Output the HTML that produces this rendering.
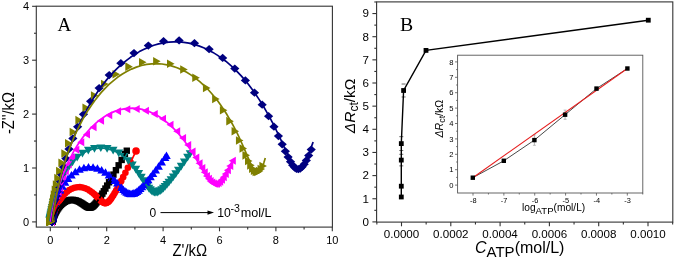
<!DOCTYPE html>
<html><head><meta charset="utf-8"><style>
html,body{margin:0;padding:0;background:#fff;}
body{width:675px;height:259px;overflow:hidden;font-family:"Liberation Sans",sans-serif;}
svg{display:block;will-change:transform;}
</style></head><body>
<svg width="675" height="259" viewBox="0 0 675 259">
<rect width="675" height="259" fill="#fff"/>
<rect x="36.3" y="6.2" width="296.09999999999997" height="220.9" fill="none" stroke="#333" stroke-width="1.1"/>
<line x1="32.099999999999994" y1="221.90" x2="36.3" y2="221.90" stroke="#333" stroke-width="1.1"/>
<text x="29" y="225.85" text-anchor="end" font-size="11" font-family="Liberation Sans, sans-serif">0</text>
<line x1="34.0" y1="194.95" x2="36.3" y2="194.95" stroke="#333" stroke-width="1.1"/>
<line x1="32.099999999999994" y1="168.00" x2="36.3" y2="168.00" stroke="#333" stroke-width="1.1"/>
<text x="29" y="171.95" text-anchor="end" font-size="11" font-family="Liberation Sans, sans-serif">1</text>
<line x1="34.0" y1="141.05" x2="36.3" y2="141.05" stroke="#333" stroke-width="1.1"/>
<line x1="32.099999999999994" y1="114.10" x2="36.3" y2="114.10" stroke="#333" stroke-width="1.1"/>
<text x="29" y="118.05" text-anchor="end" font-size="11" font-family="Liberation Sans, sans-serif">2</text>
<line x1="34.0" y1="87.15" x2="36.3" y2="87.15" stroke="#333" stroke-width="1.1"/>
<line x1="32.099999999999994" y1="60.20" x2="36.3" y2="60.20" stroke="#333" stroke-width="1.1"/>
<text x="29" y="64.15" text-anchor="end" font-size="11" font-family="Liberation Sans, sans-serif">3</text>
<line x1="34.0" y1="33.25" x2="36.3" y2="33.25" stroke="#333" stroke-width="1.1"/>
<line x1="32.099999999999994" y1="6.30" x2="36.3" y2="6.30" stroke="#333" stroke-width="1.1"/>
<text x="29" y="10.25" text-anchor="end" font-size="11" font-family="Liberation Sans, sans-serif">4</text>
<line x1="50.30" y1="227.1" x2="50.30" y2="231.29999999999998" stroke="#333" stroke-width="1.1"/>
<text x="50.30" y="243.7" text-anchor="middle" font-size="11" font-family="Liberation Sans, sans-serif">0</text>
<line x1="78.50" y1="227.1" x2="78.50" y2="229.4" stroke="#333" stroke-width="1.1"/>
<line x1="106.70" y1="227.1" x2="106.70" y2="231.29999999999998" stroke="#333" stroke-width="1.1"/>
<text x="106.70" y="243.7" text-anchor="middle" font-size="11" font-family="Liberation Sans, sans-serif">2</text>
<line x1="134.90" y1="227.1" x2="134.90" y2="229.4" stroke="#333" stroke-width="1.1"/>
<line x1="163.10" y1="227.1" x2="163.10" y2="231.29999999999998" stroke="#333" stroke-width="1.1"/>
<text x="163.10" y="243.7" text-anchor="middle" font-size="11" font-family="Liberation Sans, sans-serif">4</text>
<line x1="191.30" y1="227.1" x2="191.30" y2="229.4" stroke="#333" stroke-width="1.1"/>
<line x1="219.50" y1="227.1" x2="219.50" y2="231.29999999999998" stroke="#333" stroke-width="1.1"/>
<text x="219.50" y="243.7" text-anchor="middle" font-size="11" font-family="Liberation Sans, sans-serif">6</text>
<line x1="247.70" y1="227.1" x2="247.70" y2="229.4" stroke="#333" stroke-width="1.1"/>
<line x1="275.90" y1="227.1" x2="275.90" y2="231.29999999999998" stroke="#333" stroke-width="1.1"/>
<text x="275.90" y="243.7" text-anchor="middle" font-size="11" font-family="Liberation Sans, sans-serif">8</text>
<line x1="304.10" y1="227.1" x2="304.10" y2="229.4" stroke="#333" stroke-width="1.1"/>
<line x1="332.30" y1="227.1" x2="332.30" y2="231.29999999999998" stroke="#333" stroke-width="1.1"/>
<text x="332.30" y="243.7" text-anchor="middle" font-size="11" font-family="Liberation Sans, sans-serif">10</text>
<text transform="translate(189.8,255.6) scale(0.93,1)" text-anchor="middle" font-size="16" font-family="Liberation Sans, sans-serif">Z'/kΩ</text>
<text transform="translate(13.7,113.1) rotate(-90) scale(0.92,1)" text-anchor="middle" font-size="16" font-family="Liberation Sans, sans-serif">-Z''/kΩ</text>
<text x="57.5" y="30.7" font-size="19" font-family="Liberation Serif, serif">A</text>
<g><rect x="48.86" y="218.20" width="6.40" height="6.40" fill="#000000"/><rect x="48.86" y="218.18" width="6.40" height="6.40" fill="#000000"/><rect x="48.87" y="218.17" width="6.40" height="6.40" fill="#000000"/><rect x="48.87" y="218.15" width="6.40" height="6.40" fill="#000000"/><rect x="48.88" y="218.13" width="6.40" height="6.40" fill="#000000"/><rect x="48.89" y="218.11" width="6.40" height="6.40" fill="#000000"/><rect x="48.89" y="218.08" width="6.40" height="6.40" fill="#000000"/><rect x="48.90" y="218.05" width="6.40" height="6.40" fill="#000000"/><rect x="48.91" y="218.02" width="6.40" height="6.40" fill="#000000"/><rect x="48.93" y="217.98" width="6.40" height="6.40" fill="#000000"/><rect x="48.94" y="217.93" width="6.40" height="6.40" fill="#000000"/><rect x="48.95" y="217.88" width="6.40" height="6.40" fill="#000000"/><rect x="48.97" y="217.82" width="6.40" height="6.40" fill="#000000"/><rect x="48.99" y="217.76" width="6.40" height="6.40" fill="#000000"/><rect x="49.01" y="217.69" width="6.40" height="6.40" fill="#000000"/><rect x="49.04" y="217.60" width="6.40" height="6.40" fill="#000000"/><rect x="49.07" y="217.51" width="6.40" height="6.40" fill="#000000"/><rect x="49.10" y="217.40" width="6.40" height="6.40" fill="#000000"/><rect x="49.14" y="217.28" width="6.40" height="6.40" fill="#000000"/><rect x="49.18" y="217.14" width="6.40" height="6.40" fill="#000000"/><rect x="49.23" y="216.98" width="6.40" height="6.40" fill="#000000"/><rect x="49.29" y="216.80" width="6.40" height="6.40" fill="#000000"/><rect x="49.36" y="216.60" width="6.40" height="6.40" fill="#000000"/><rect x="49.43" y="216.37" width="6.40" height="6.40" fill="#000000"/><rect x="49.52" y="216.12" width="6.40" height="6.40" fill="#000000"/><rect x="49.62" y="215.83" width="6.40" height="6.40" fill="#000000"/><rect x="49.73" y="215.50" width="6.40" height="6.40" fill="#000000"/><rect x="49.86" y="215.14" width="6.40" height="6.40" fill="#000000"/><rect x="50.01" y="214.73" width="6.40" height="6.40" fill="#000000"/><rect x="50.18" y="214.27" width="6.40" height="6.40" fill="#000000"/><rect x="50.37" y="213.76" width="6.40" height="6.40" fill="#000000"/><rect x="50.60" y="213.19" width="6.40" height="6.40" fill="#000000"/><rect x="50.86" y="212.56" width="6.40" height="6.40" fill="#000000"/><rect x="51.16" y="211.87" width="6.40" height="6.40" fill="#000000"/><rect x="51.51" y="211.11" width="6.40" height="6.40" fill="#000000"/><rect x="51.90" y="210.27" width="6.40" height="6.40" fill="#000000"/><rect x="52.36" y="209.37" width="6.40" height="6.40" fill="#000000"/><rect x="52.88" y="208.40" width="6.40" height="6.40" fill="#000000"/><rect x="53.48" y="207.36" width="6.40" height="6.40" fill="#000000"/><rect x="54.16" y="206.27" width="6.40" height="6.40" fill="#000000"/><rect x="54.93" y="205.14" width="6.40" height="6.40" fill="#000000"/><rect x="55.80" y="203.97" width="6.40" height="6.40" fill="#000000"/><rect x="56.77" y="202.81" width="6.40" height="6.40" fill="#000000"/><rect x="57.86" y="201.66" width="6.40" height="6.40" fill="#000000"/><rect x="59.05" y="200.56" width="6.40" height="6.40" fill="#000000"/><rect x="60.34" y="199.54" width="6.40" height="6.40" fill="#000000"/><rect x="61.74" y="198.63" width="6.40" height="6.40" fill="#000000"/><rect x="63.22" y="197.88" width="6.40" height="6.40" fill="#000000"/><rect x="64.77" y="197.29" width="6.40" height="6.40" fill="#000000"/><rect x="66.36" y="196.90" width="6.40" height="6.40" fill="#000000"/><rect x="67.98" y="196.71" width="6.40" height="6.40" fill="#000000"/><rect x="69.60" y="196.72" width="6.40" height="6.40" fill="#000000"/><rect x="71.19" y="196.92" width="6.40" height="6.40" fill="#000000"/><rect x="72.74" y="197.30" width="6.40" height="6.40" fill="#000000"/><rect x="74.22" y="197.82" width="6.40" height="6.40" fill="#000000"/><rect x="75.63" y="198.45" width="6.40" height="6.40" fill="#000000"/><rect x="76.96" y="199.15" width="6.40" height="6.40" fill="#000000"/><rect x="78.20" y="199.89" width="6.40" height="6.40" fill="#000000"/><rect x="79.35" y="200.65" width="6.40" height="6.40" fill="#000000"/><rect x="80.42" y="201.38" width="6.40" height="6.40" fill="#000000"/><rect x="81.42" y="202.07" width="6.40" height="6.40" fill="#000000"/><rect x="82.34" y="202.69" width="6.40" height="6.40" fill="#000000"/><rect x="83.21" y="203.23" width="6.40" height="6.40" fill="#000000"/><rect x="84.02" y="203.67" width="6.40" height="6.40" fill="#000000"/><rect x="84.80" y="204.01" width="6.40" height="6.40" fill="#000000"/><rect x="85.55" y="204.23" width="6.40" height="6.40" fill="#000000"/><rect x="86.28" y="204.34" width="6.40" height="6.40" fill="#000000"/><rect x="86.99" y="204.32" width="6.40" height="6.40" fill="#000000"/><rect x="87.70" y="204.17" width="6.40" height="6.40" fill="#000000"/><rect x="88.42" y="203.89" width="6.40" height="6.40" fill="#000000"/><rect x="89.16" y="203.48" width="6.40" height="6.40" fill="#000000"/><rect x="89.91" y="202.92" width="6.40" height="6.40" fill="#000000"/><rect x="90.70" y="202.22" width="6.40" height="6.40" fill="#000000"/><rect x="91.52" y="201.38" width="6.40" height="6.40" fill="#000000"/><rect x="92.40" y="200.37" width="6.40" height="6.40" fill="#000000"/><rect x="93.33" y="199.20" width="6.40" height="6.40" fill="#000000"/><rect x="94.32" y="197.85" width="6.40" height="6.40" fill="#000000"/><rect x="95.39" y="196.31" width="6.40" height="6.40" fill="#000000"/><rect x="96.54" y="194.58" width="6.40" height="6.40" fill="#000000"/><rect x="97.79" y="192.64" width="6.40" height="6.40" fill="#000000"/><rect x="99.14" y="190.46" width="6.40" height="6.40" fill="#000000"/><rect x="100.61" y="188.04" width="6.40" height="6.40" fill="#000000"/><rect x="102.21" y="185.35" width="6.40" height="6.40" fill="#000000"/><rect x="103.96" y="182.37" width="6.40" height="6.40" fill="#000000"/><rect x="105.86" y="179.07" width="6.40" height="6.40" fill="#000000"/><rect x="107.95" y="175.43" width="6.40" height="6.40" fill="#000000"/><rect x="110.23" y="171.41" width="6.40" height="6.40" fill="#000000"/><rect x="112.72" y="166.99" width="6.40" height="6.40" fill="#000000"/><rect x="115.45" y="162.11" width="6.40" height="6.40" fill="#000000"/><rect x="118.44" y="156.75" width="6.40" height="6.40" fill="#000000"/><rect x="121.72" y="150.85" width="6.40" height="6.40" fill="#000000"/><rect x="123.57" y="147.51" width="6.40" height="6.40" fill="#000000"/></g>
<g><circle cx="51.78" cy="221.07" r="3.30" fill="#ff0000"/><circle cx="51.80" cy="221.01" r="3.30" fill="#ff0000"/><circle cx="51.81" cy="220.93" r="3.30" fill="#ff0000"/><circle cx="51.83" cy="220.84" r="3.30" fill="#ff0000"/><circle cx="51.85" cy="220.74" r="3.30" fill="#ff0000"/><circle cx="51.88" cy="220.62" r="3.30" fill="#ff0000"/><circle cx="51.91" cy="220.49" r="3.30" fill="#ff0000"/><circle cx="51.95" cy="220.33" r="3.30" fill="#ff0000"/><circle cx="51.99" cy="220.15" r="3.30" fill="#ff0000"/><circle cx="52.04" cy="219.94" r="3.30" fill="#ff0000"/><circle cx="52.09" cy="219.71" r="3.30" fill="#ff0000"/><circle cx="52.16" cy="219.43" r="3.30" fill="#ff0000"/><circle cx="52.23" cy="219.12" r="3.30" fill="#ff0000"/><circle cx="52.32" cy="218.76" r="3.30" fill="#ff0000"/><circle cx="52.42" cy="218.34" r="3.30" fill="#ff0000"/><circle cx="52.55" cy="217.86" r="3.30" fill="#ff0000"/><circle cx="52.69" cy="217.32" r="3.30" fill="#ff0000"/><circle cx="52.86" cy="216.70" r="3.30" fill="#ff0000"/><circle cx="53.06" cy="215.99" r="3.30" fill="#ff0000"/><circle cx="53.29" cy="215.19" r="3.30" fill="#ff0000"/><circle cx="53.57" cy="214.28" r="3.30" fill="#ff0000"/><circle cx="53.90" cy="213.25" r="3.30" fill="#ff0000"/><circle cx="54.28" cy="212.09" r="3.30" fill="#ff0000"/><circle cx="54.75" cy="210.79" r="3.30" fill="#ff0000"/><circle cx="55.29" cy="209.35" r="3.30" fill="#ff0000"/><circle cx="55.94" cy="207.76" r="3.30" fill="#ff0000"/><circle cx="56.71" cy="206.03" r="3.30" fill="#ff0000"/><circle cx="57.61" cy="204.15" r="3.30" fill="#ff0000"/><circle cx="58.68" cy="202.15" r="3.30" fill="#ff0000"/><circle cx="59.92" cy="200.06" r="3.30" fill="#ff0000"/><circle cx="61.37" cy="197.91" r="3.30" fill="#ff0000"/><circle cx="63.02" cy="195.77" r="3.30" fill="#ff0000"/><circle cx="64.90" cy="193.69" r="3.30" fill="#ff0000"/><circle cx="67.00" cy="191.76" r="3.30" fill="#ff0000"/><circle cx="69.30" cy="190.08" r="3.30" fill="#ff0000"/><circle cx="71.79" cy="188.71" r="3.30" fill="#ff0000"/><circle cx="74.40" cy="187.72" r="3.30" fill="#ff0000"/><circle cx="77.11" cy="187.18" r="3.30" fill="#ff0000"/><circle cx="79.83" cy="187.10" r="3.30" fill="#ff0000"/><circle cx="82.52" cy="187.46" r="3.30" fill="#ff0000"/><circle cx="85.11" cy="188.22" r="3.30" fill="#ff0000"/><circle cx="87.57" cy="189.32" r="3.30" fill="#ff0000"/><circle cx="89.85" cy="190.68" r="3.30" fill="#ff0000"/><circle cx="91.95" cy="192.20" r="3.30" fill="#ff0000"/><circle cx="93.85" cy="193.79" r="3.30" fill="#ff0000"/><circle cx="95.56" cy="195.40" r="3.30" fill="#ff0000"/><circle cx="97.10" cy="196.94" r="3.30" fill="#ff0000"/><circle cx="98.48" cy="198.37" r="3.30" fill="#ff0000"/><circle cx="99.72" cy="199.65" r="3.30" fill="#ff0000"/><circle cx="100.85" cy="200.75" r="3.30" fill="#ff0000"/><circle cx="101.89" cy="201.66" r="3.30" fill="#ff0000"/><circle cx="102.86" cy="202.36" r="3.30" fill="#ff0000"/><circle cx="103.78" cy="202.84" r="3.30" fill="#ff0000"/><circle cx="104.66" cy="203.11" r="3.30" fill="#ff0000"/><circle cx="105.52" cy="203.17" r="3.30" fill="#ff0000"/><circle cx="106.38" cy="203.00" r="3.30" fill="#ff0000"/><circle cx="107.24" cy="202.60" r="3.30" fill="#ff0000"/><circle cx="108.14" cy="201.98" r="3.30" fill="#ff0000"/><circle cx="109.06" cy="201.13" r="3.30" fill="#ff0000"/><circle cx="110.04" cy="200.05" r="3.30" fill="#ff0000"/><circle cx="111.07" cy="198.71" r="3.30" fill="#ff0000"/><circle cx="112.18" cy="197.12" r="3.30" fill="#ff0000"/><circle cx="113.38" cy="195.25" r="3.30" fill="#ff0000"/><circle cx="114.67" cy="193.10" r="3.30" fill="#ff0000"/><circle cx="116.08" cy="190.64" r="3.30" fill="#ff0000"/><circle cx="117.62" cy="187.84" r="3.30" fill="#ff0000"/><circle cx="119.30" cy="184.68" r="3.30" fill="#ff0000"/><circle cx="121.15" cy="181.13" r="3.30" fill="#ff0000"/><circle cx="123.18" cy="177.16" r="3.30" fill="#ff0000"/><circle cx="125.41" cy="172.71" r="3.30" fill="#ff0000"/><circle cx="127.88" cy="167.76" r="3.30" fill="#ff0000"/><circle cx="130.59" cy="162.24" r="3.30" fill="#ff0000"/><circle cx="136.04" cy="151.07" r="3.80" fill="#ff0000"/></g>
<g><path d="M50.00 224.83L54.40 217.13L45.60 217.13Z" fill="#008080"/><path d="M50.01 224.72L54.41 217.02L45.61 217.02Z" fill="#008080"/><path d="M50.03 224.58L54.43 216.88L45.63 216.88Z" fill="#008080"/><path d="M50.05 224.42L54.45 216.72L45.65 216.72Z" fill="#008080"/><path d="M50.08 224.24L54.48 216.54L45.68 216.54Z" fill="#008080"/><path d="M50.11 224.02L54.51 216.32L45.71 216.32Z" fill="#008080"/><path d="M50.14 223.76L54.54 216.06L45.74 216.06Z" fill="#008080"/><path d="M50.19 223.45L54.59 215.75L45.79 215.75Z" fill="#008080"/><path d="M50.24 223.10L54.64 215.40L45.84 215.40Z" fill="#008080"/><path d="M50.30 222.68L54.70 214.98L45.90 214.98Z" fill="#008080"/><path d="M50.37 222.18L54.77 214.48L45.97 214.48Z" fill="#008080"/><path d="M50.45 221.61L54.85 213.91L46.05 213.91Z" fill="#008080"/><path d="M50.56 220.93L54.96 213.23L46.16 213.23Z" fill="#008080"/><path d="M50.68 220.14L55.08 212.44L46.28 212.44Z" fill="#008080"/><path d="M50.83 219.21L55.23 211.51L46.43 211.51Z" fill="#008080"/><path d="M51.02 218.12L55.42 210.42L46.62 210.42Z" fill="#008080"/><path d="M51.24 216.86L55.64 209.16L46.84 209.16Z" fill="#008080"/><path d="M51.51 215.38L55.91 207.68L47.11 207.68Z" fill="#008080"/><path d="M51.85 213.66L56.25 205.96L47.45 205.96Z" fill="#008080"/><path d="M52.26 211.68L56.66 203.98L47.86 203.98Z" fill="#008080"/><path d="M52.78 209.38L57.18 201.68L48.38 201.68Z" fill="#008080"/><path d="M53.41 206.73L57.81 199.03L49.01 199.03Z" fill="#008080"/><path d="M54.20 203.71L58.60 196.01L49.80 196.01Z" fill="#008080"/><path d="M55.19 200.27L59.59 192.57L50.79 192.57Z" fill="#008080"/><path d="M56.42 196.40L60.82 188.70L52.02 188.70Z" fill="#008080"/><path d="M57.95 192.10L62.35 184.40L53.55 184.40Z" fill="#008080"/><path d="M59.84 187.38L64.24 179.68L55.44 179.68Z" fill="#008080"/><path d="M62.17 182.30L66.57 174.60L57.77 174.60Z" fill="#008080"/><path d="M65.02 176.98L69.42 169.28L60.62 169.28Z" fill="#008080"/><path d="M68.44 171.58L72.84 163.88L64.04 163.88Z" fill="#008080"/><path d="M72.50 166.35L76.90 158.65L68.10 158.65Z" fill="#008080"/><path d="M77.19 161.57L81.59 153.87L72.79 153.87Z" fill="#008080"/><path d="M82.49 157.54L86.89 149.84L78.09 149.84Z" fill="#008080"/><path d="M88.31 154.54L92.71 146.84L83.91 146.84Z" fill="#008080"/><path d="M94.48 152.71L98.88 145.01L90.08 145.01Z" fill="#008080"/><path d="M100.82 152.11L105.22 144.41L96.42 144.41Z" fill="#008080"/><path d="M107.11 152.72L111.51 145.02L102.71 145.02Z" fill="#008080"/><path d="M113.14 154.47L117.54 146.77L108.74 146.77Z" fill="#008080"/><path d="M118.76 157.23L123.16 149.53L114.36 149.53Z" fill="#008080"/><path d="M123.86 160.79L128.26 153.09L119.46 153.09Z" fill="#008080"/><path d="M128.39 164.88L132.79 157.18L123.99 157.18Z" fill="#008080"/><path d="M132.35 169.21L136.75 161.51L127.95 161.51Z" fill="#008080"/><path d="M135.78 173.53L140.18 165.83L131.38 165.83Z" fill="#008080"/><path d="M138.74 177.66L143.14 169.96L134.34 169.96Z" fill="#008080"/><path d="M141.30 181.47L145.70 173.77L136.90 173.77Z" fill="#008080"/><path d="M143.54 184.87L147.94 177.17L139.14 177.17Z" fill="#008080"/><path d="M145.51 187.84L149.91 180.14L141.11 180.14Z" fill="#008080"/><path d="M147.27 190.35L151.67 182.65L142.87 182.65Z" fill="#008080"/><path d="M148.88 192.40L153.28 184.70L144.48 184.70Z" fill="#008080"/><path d="M150.37 194.02L154.77 186.32L145.97 186.32Z" fill="#008080"/><path d="M151.79 195.23L156.19 187.53L147.39 187.53Z" fill="#008080"/><path d="M153.17 196.05L157.57 188.35L148.77 188.35Z" fill="#008080"/><path d="M154.52 196.50L158.92 188.80L150.12 188.80Z" fill="#008080"/><path d="M155.88 196.60L160.28 188.90L151.48 188.90Z" fill="#008080"/><path d="M157.26 196.38L161.66 188.68L152.86 188.68Z" fill="#008080"/><path d="M158.68 195.84L163.08 188.14L154.28 188.14Z" fill="#008080"/><path d="M160.16 195.01L164.56 187.31L155.76 187.31Z" fill="#008080"/><path d="M161.71 193.88L166.11 186.18L157.31 186.18Z" fill="#008080"/><path d="M163.35 192.47L167.75 184.77L158.95 184.77Z" fill="#008080"/><path d="M165.08 190.78L169.48 183.08L160.68 183.08Z" fill="#008080"/><path d="M166.93 188.80L171.33 181.10L162.53 181.10Z" fill="#008080"/><path d="M168.90 186.53L173.30 178.83L164.50 178.83Z" fill="#008080"/><path d="M171.02 183.96L175.42 176.26L166.62 176.26Z" fill="#008080"/><path d="M173.29 181.09L177.69 173.39L168.89 173.39Z" fill="#008080"/><path d="M175.73 177.90L180.13 170.20L171.33 170.20Z" fill="#008080"/><path d="M178.37 174.37L182.77 166.67L173.97 166.67Z" fill="#008080"/><path d="M181.21 170.48L185.61 162.78L176.81 162.78Z" fill="#008080"/><path d="M184.28 166.22L188.68 158.52L179.88 158.52Z" fill="#008080"/><path d="M187.59 161.56L191.99 153.86L183.19 153.86Z" fill="#008080"/><path d="M190.13 157.95L194.53 150.25L185.73 150.25Z" fill="#008080"/></g>
<g><path d="M50.58 217.60L54.88 225.12L46.28 225.12Z" fill="#0000ff"/><path d="M50.58 217.59L54.88 225.12L46.28 225.12Z" fill="#0000ff"/><path d="M50.58 217.58L54.88 225.11L46.28 225.11Z" fill="#0000ff"/><path d="M50.58 217.58L54.88 225.10L46.28 225.10Z" fill="#0000ff"/><path d="M50.58 217.57L54.88 225.09L46.28 225.09Z" fill="#0000ff"/><path d="M50.58 217.55L54.88 225.08L46.28 225.08Z" fill="#0000ff"/><path d="M50.58 217.54L54.88 225.07L46.28 225.07Z" fill="#0000ff"/><path d="M50.59 217.53L54.89 225.05L46.29 225.05Z" fill="#0000ff"/><path d="M50.59 217.51L54.89 225.03L46.29 225.03Z" fill="#0000ff"/><path d="M50.59 217.49L54.89 225.01L46.29 225.01Z" fill="#0000ff"/><path d="M50.60 217.46L54.90 224.99L46.30 224.99Z" fill="#0000ff"/><path d="M50.60 217.43L54.90 224.96L46.30 224.96Z" fill="#0000ff"/><path d="M50.61 217.40L54.91 224.93L46.31 224.93Z" fill="#0000ff"/><path d="M50.61 217.36L54.91 224.89L46.31 224.89Z" fill="#0000ff"/><path d="M50.62 217.31L54.92 224.84L46.32 224.84Z" fill="#0000ff"/><path d="M50.63 217.26L54.93 224.78L46.33 224.78Z" fill="#0000ff"/><path d="M50.64 217.20L54.94 224.72L46.34 224.72Z" fill="#0000ff"/><path d="M50.65 217.12L54.95 224.65L46.35 224.65Z" fill="#0000ff"/><path d="M50.66 217.03L54.96 224.56L46.36 224.56Z" fill="#0000ff"/><path d="M50.68 216.93L54.98 224.45L46.38 224.45Z" fill="#0000ff"/><path d="M50.70 216.81L55.00 224.33L46.40 224.33Z" fill="#0000ff"/><path d="M50.72 216.67L55.02 224.19L46.42 224.19Z" fill="#0000ff"/><path d="M50.75 216.50L55.05 224.03L46.45 224.03Z" fill="#0000ff"/><path d="M50.78 216.31L55.08 223.83L46.48 223.83Z" fill="#0000ff"/><path d="M50.81 216.08L55.11 223.60L46.51 223.60Z" fill="#0000ff"/><path d="M50.86 215.81L55.16 223.34L46.56 223.34Z" fill="#0000ff"/><path d="M50.91 215.50L55.21 223.03L46.61 223.03Z" fill="#0000ff"/><path d="M50.97 215.14L55.27 222.66L46.67 222.66Z" fill="#0000ff"/><path d="M51.05 214.71L55.35 222.23L46.75 222.23Z" fill="#0000ff"/><path d="M51.14 214.21L55.44 221.74L46.84 221.74Z" fill="#0000ff"/><path d="M51.25 213.63L55.55 221.16L46.95 221.16Z" fill="#0000ff"/><path d="M51.38 212.95L55.68 220.48L47.08 220.48Z" fill="#0000ff"/><path d="M51.53 212.17L55.83 219.69L47.23 219.69Z" fill="#0000ff"/><path d="M51.72 211.25L56.02 218.78L47.42 218.78Z" fill="#0000ff"/><path d="M51.95 210.19L56.25 217.71L47.65 217.71Z" fill="#0000ff"/><path d="M52.23 208.96L56.53 216.48L47.93 216.48Z" fill="#0000ff"/><path d="M52.57 207.54L56.87 215.07L48.27 215.07Z" fill="#0000ff"/><path d="M53.00 205.91L57.30 213.43L48.70 213.43Z" fill="#0000ff"/><path d="M53.51 204.04L57.81 211.57L49.21 211.57Z" fill="#0000ff"/><path d="M54.15 201.88L58.45 209.41L49.85 209.41Z" fill="#0000ff"/><path d="M54.94 199.33L59.24 206.85L50.64 206.85Z" fill="#0000ff"/><path d="M55.91 196.46L60.21 203.99L51.61 203.99Z" fill="#0000ff"/><path d="M57.10 193.30L61.40 200.82L52.80 200.82Z" fill="#0000ff"/><path d="M58.57 189.84L62.87 197.36L54.27 197.36Z" fill="#0000ff"/><path d="M60.34 186.14L64.64 193.66L56.04 193.66Z" fill="#0000ff"/><path d="M62.49 182.26L66.79 189.79L58.19 189.79Z" fill="#0000ff"/><path d="M65.04 178.33L69.34 185.85L60.74 185.85Z" fill="#0000ff"/><path d="M68.02 174.48L72.32 182.01L63.72 182.01Z" fill="#0000ff"/><path d="M71.45 170.90L75.75 178.43L67.15 178.43Z" fill="#0000ff"/><path d="M75.29 167.79L79.59 175.32L70.99 175.32Z" fill="#0000ff"/><path d="M79.48 165.34L83.78 172.87L75.18 172.87Z" fill="#0000ff"/><path d="M83.92 163.70L88.22 171.23L79.62 171.23Z" fill="#0000ff"/><path d="M88.49 162.98L92.79 170.50L84.19 170.50Z" fill="#0000ff"/><path d="M93.05 163.17L97.35 170.69L88.75 170.69Z" fill="#0000ff"/><path d="M97.46 164.21L101.76 171.73L93.16 171.73Z" fill="#0000ff"/><path d="M101.64 165.96L105.94 173.48L97.34 173.48Z" fill="#0000ff"/><path d="M105.49 168.24L109.79 175.76L101.19 175.76Z" fill="#0000ff"/><path d="M108.98 170.85L113.28 178.38L104.68 178.38Z" fill="#0000ff"/><path d="M112.11 173.62L116.41 181.15L107.81 181.15Z" fill="#0000ff"/><path d="M114.89 176.39L119.19 183.91L110.59 183.91Z" fill="#0000ff"/><path d="M117.37 179.03L121.67 186.55L113.07 186.55Z" fill="#0000ff"/><path d="M119.57 181.45L123.87 188.97L115.27 188.97Z" fill="#0000ff"/><path d="M121.55 183.59L125.85 191.12L117.25 191.12Z" fill="#0000ff"/><path d="M123.35 185.43L127.65 192.95L119.05 192.95Z" fill="#0000ff"/><path d="M125.02 186.93L129.32 194.46L120.72 194.46Z" fill="#0000ff"/><path d="M126.58 188.11L130.88 195.63L122.28 195.63Z" fill="#0000ff"/><path d="M128.07 188.95L132.37 196.48L123.77 196.48Z" fill="#0000ff"/><path d="M129.52 189.48L133.82 197.00L125.22 197.00Z" fill="#0000ff"/><path d="M130.95 189.69L135.25 197.22L126.65 197.22Z" fill="#0000ff"/><path d="M132.38 189.55L136.68 197.08L128.08 197.08Z" fill="#0000ff"/><path d="M133.84 189.11L138.14 196.63L129.54 196.63Z" fill="#0000ff"/><path d="M135.33 188.38L139.63 195.91L131.03 195.91Z" fill="#0000ff"/><path d="M136.88 187.38L141.18 194.91L132.58 194.91Z" fill="#0000ff"/><path d="M138.51 186.11L142.81 193.63L134.21 193.63Z" fill="#0000ff"/><path d="M140.21 184.57L144.51 192.09L135.91 192.09Z" fill="#0000ff"/><path d="M142.01 182.75L146.31 190.28L137.71 190.28Z" fill="#0000ff"/><path d="M143.93 180.67L148.23 188.19L139.63 188.19Z" fill="#0000ff"/><path d="M145.97 178.30L150.27 185.83L141.67 185.83Z" fill="#0000ff"/><path d="M148.15 175.64L152.45 183.17L143.85 183.17Z" fill="#0000ff"/><path d="M150.48 172.69L154.78 180.21L146.18 180.21Z" fill="#0000ff"/><path d="M152.99 169.52L157.29 177.04L148.69 177.04Z" fill="#0000ff"/><path d="M155.68 166.05L159.98 173.58L151.38 173.58Z" fill="#0000ff"/><path d="M158.58 162.25L162.88 169.77L154.28 169.77Z" fill="#0000ff"/><path d="M161.70 158.08L166.00 165.61L157.40 165.61Z" fill="#0000ff"/><path d="M165.06 153.54L169.36 161.06L160.76 161.06Z" fill="#0000ff"/><path d="M166.48 151.59L170.78 159.12L162.18 159.12Z" fill="#0000ff"/></g>
<g><path d="M47.81 221.50L54.81 217.50L54.81 225.50Z" fill="#ff00ff"/><path d="M47.81 221.50L54.81 217.50L54.81 225.50Z" fill="#ff00ff"/><path d="M47.81 221.50L54.81 217.50L54.81 225.50Z" fill="#ff00ff"/><path d="M47.81 221.50L54.81 217.50L54.81 225.50Z" fill="#ff00ff"/><path d="M47.81 221.50L54.81 217.50L54.81 225.50Z" fill="#ff00ff"/><path d="M47.81 221.50L54.81 217.50L54.81 225.50Z" fill="#ff00ff"/><path d="M47.81 221.50L54.81 217.50L54.81 225.50Z" fill="#ff00ff"/><path d="M47.81 221.50L54.81 217.50L54.81 225.50Z" fill="#ff00ff"/><path d="M47.81 221.50L54.81 217.50L54.81 225.50Z" fill="#ff00ff"/><path d="M47.81 221.50L54.81 217.50L54.81 225.50Z" fill="#ff00ff"/><path d="M47.81 221.50L54.81 217.50L54.81 225.50Z" fill="#ff00ff"/><path d="M47.81 221.50L54.81 217.50L54.81 225.50Z" fill="#ff00ff"/><path d="M47.81 221.50L54.81 217.50L54.81 225.50Z" fill="#ff00ff"/><path d="M47.81 221.50L54.81 217.50L54.81 225.50Z" fill="#ff00ff"/><path d="M47.81 221.50L54.81 217.50L54.81 225.50Z" fill="#ff00ff"/><path d="M47.81 221.49L54.81 217.49L54.81 225.49Z" fill="#ff00ff"/><path d="M47.81 221.49L54.81 217.49L54.81 225.49Z" fill="#ff00ff"/><path d="M47.81 221.49L54.81 217.49L54.81 225.49Z" fill="#ff00ff"/><path d="M47.81 221.49L54.81 217.49L54.81 225.49Z" fill="#ff00ff"/><path d="M47.81 221.49L54.81 217.49L54.81 225.49Z" fill="#ff00ff"/><path d="M47.81 221.49L54.81 217.49L54.81 225.49Z" fill="#ff00ff"/><path d="M47.81 221.49L54.81 217.49L54.81 225.49Z" fill="#ff00ff"/><path d="M47.81 221.48L54.81 217.48L54.81 225.48Z" fill="#ff00ff"/><path d="M47.81 221.48L54.81 217.48L54.81 225.48Z" fill="#ff00ff"/><path d="M47.81 221.48L54.81 217.48L54.81 225.48Z" fill="#ff00ff"/><path d="M47.81 221.47L54.81 217.47L54.81 225.47Z" fill="#ff00ff"/><path d="M47.82 221.47L54.82 217.47L54.82 225.47Z" fill="#ff00ff"/><path d="M47.82 221.46L54.82 217.46L54.82 225.46Z" fill="#ff00ff"/><path d="M47.82 221.46L54.82 217.46L54.82 225.46Z" fill="#ff00ff"/><path d="M47.82 221.45L54.82 217.45L54.82 225.45Z" fill="#ff00ff"/><path d="M47.82 221.44L54.82 217.44L54.82 225.44Z" fill="#ff00ff"/><path d="M47.82 221.43L54.82 217.43L54.82 225.43Z" fill="#ff00ff"/><path d="M47.82 221.42L54.82 217.42L54.82 225.42Z" fill="#ff00ff"/><path d="M47.83 221.41L54.83 217.41L54.83 225.41Z" fill="#ff00ff"/><path d="M47.83 221.39L54.83 217.39L54.83 225.39Z" fill="#ff00ff"/><path d="M47.83 221.38L54.83 217.38L54.83 225.38Z" fill="#ff00ff"/><path d="M47.83 221.35L54.83 217.35L54.83 225.35Z" fill="#ff00ff"/><path d="M47.84 221.33L54.84 217.33L54.84 225.33Z" fill="#ff00ff"/><path d="M47.84 221.30L54.84 217.30L54.84 225.30Z" fill="#ff00ff"/><path d="M47.85 221.27L54.85 217.27L54.85 225.27Z" fill="#ff00ff"/><path d="M47.86 221.23L54.86 217.23L54.86 225.23Z" fill="#ff00ff"/><path d="M47.86 221.19L54.86 217.19L54.86 225.19Z" fill="#ff00ff"/><path d="M47.87 221.13L54.87 217.13L54.87 225.13Z" fill="#ff00ff"/><path d="M47.88 221.07L54.88 217.07L54.88 225.07Z" fill="#ff00ff"/><path d="M47.89 221.00L54.89 217.00L54.89 225.00Z" fill="#ff00ff"/><path d="M47.91 220.92L54.91 216.92L54.91 224.92Z" fill="#ff00ff"/><path d="M47.92 220.82L54.92 216.82L54.92 224.82Z" fill="#ff00ff"/><path d="M47.94 220.71L54.94 216.71L54.94 224.71Z" fill="#ff00ff"/><path d="M47.97 220.58L54.97 216.58L54.97 224.58Z" fill="#ff00ff"/><path d="M47.99 220.43L54.99 216.43L54.99 224.43Z" fill="#ff00ff"/><path d="M48.02 220.25L55.02 216.25L55.02 224.25Z" fill="#ff00ff"/><path d="M48.06 220.05L55.06 216.05L55.06 224.05Z" fill="#ff00ff"/><path d="M48.10 219.80L55.10 215.80L55.10 223.80Z" fill="#ff00ff"/><path d="M48.15 219.52L55.15 215.52L55.15 223.52Z" fill="#ff00ff"/><path d="M48.21 219.20L55.21 215.20L55.21 223.20Z" fill="#ff00ff"/><path d="M48.28 218.82L55.28 214.82L55.28 222.82Z" fill="#ff00ff"/><path d="M48.35 218.37L55.35 214.37L55.35 222.37Z" fill="#ff00ff"/><path d="M48.45 217.86L55.45 213.86L55.45 221.86Z" fill="#ff00ff"/><path d="M48.56 217.26L55.56 213.26L55.56 221.26Z" fill="#ff00ff"/><path d="M48.69 216.56L55.69 212.56L55.69 220.56Z" fill="#ff00ff"/><path d="M48.84 215.75L55.84 211.75L55.84 219.75Z" fill="#ff00ff"/><path d="M49.02 214.80L56.02 210.80L56.02 218.80Z" fill="#ff00ff"/><path d="M49.24 213.71L56.24 209.71L56.24 217.71Z" fill="#ff00ff"/><path d="M49.49 212.44L56.49 208.44L56.49 216.44Z" fill="#ff00ff"/><path d="M49.79 210.97L56.79 206.97L56.79 214.97Z" fill="#ff00ff"/><path d="M50.15 209.27L57.15 205.27L57.15 213.27Z" fill="#ff00ff"/><path d="M50.59 207.31L57.59 203.31L57.59 211.31Z" fill="#ff00ff"/><path d="M51.11 205.05L58.11 201.05L58.11 209.05Z" fill="#ff00ff"/><path d="M51.73 202.45L58.73 198.45L58.73 206.45Z" fill="#ff00ff"/><path d="M52.48 199.46L59.48 195.46L59.48 203.46Z" fill="#ff00ff"/><path d="M53.39 196.05L60.39 192.05L60.39 200.05Z" fill="#ff00ff"/><path d="M54.49 192.16L61.49 188.16L61.49 196.16Z" fill="#ff00ff"/><path d="M55.82 187.76L62.82 183.76L62.82 191.76Z" fill="#ff00ff"/><path d="M57.44 182.81L64.44 178.81L64.44 186.81Z" fill="#ff00ff"/><path d="M59.41 177.28L66.41 173.28L66.41 181.28Z" fill="#ff00ff"/><path d="M61.80 171.18L68.80 167.18L68.80 175.18Z" fill="#ff00ff"/><path d="M64.68 164.52L71.68 160.52L71.68 168.52Z" fill="#ff00ff"/><path d="M68.16 157.38L75.16 153.38L75.16 161.38Z" fill="#ff00ff"/><path d="M72.31 149.86L79.31 145.86L79.31 153.86Z" fill="#ff00ff"/><path d="M77.23 142.15L84.23 138.15L84.23 146.15Z" fill="#ff00ff"/><path d="M82.98 134.49L89.98 130.49L89.98 138.49Z" fill="#ff00ff"/><path d="M89.58 127.22L96.58 123.22L96.58 131.22Z" fill="#ff00ff"/><path d="M97.04 120.68L104.04 116.68L104.04 124.68Z" fill="#ff00ff"/><path d="M105.26 115.28L112.26 111.28L112.26 119.28Z" fill="#ff00ff"/><path d="M114.09 111.37L121.09 107.37L121.09 115.37Z" fill="#ff00ff"/><path d="M123.32 109.23L130.32 105.23L130.32 113.23Z" fill="#ff00ff"/><path d="M132.68 108.99L139.68 104.99L139.68 112.99Z" fill="#ff00ff"/><path d="M141.91 110.65L148.91 106.65L148.91 114.65Z" fill="#ff00ff"/><path d="M150.75 114.04L157.75 110.04L157.75 118.04Z" fill="#ff00ff"/><path d="M158.99 118.85L165.99 114.85L165.99 122.85Z" fill="#ff00ff"/><path d="M166.50 124.73L173.50 120.73L173.50 128.73Z" fill="#ff00ff"/><path d="M173.19 131.27L180.19 127.27L180.19 135.27Z" fill="#ff00ff"/><path d="M179.07 138.11L186.07 134.11L186.07 142.11Z" fill="#ff00ff"/><path d="M184.16 144.94L191.16 140.94L191.16 148.94Z" fill="#ff00ff"/><path d="M188.55 151.50L195.55 147.50L195.55 155.50Z" fill="#ff00ff"/><path d="M192.32 157.62L199.32 153.62L199.32 161.62Z" fill="#ff00ff"/><path d="M195.55 163.18L202.55 159.18L202.55 167.18Z" fill="#ff00ff"/><path d="M198.34 168.09L205.34 164.09L205.34 172.09Z" fill="#ff00ff"/><path d="M200.78 172.33L207.78 168.33L207.78 176.33Z" fill="#ff00ff"/><path d="M202.93 175.89L209.93 171.89L209.93 179.89Z" fill="#ff00ff"/><path d="M204.86 178.78L211.86 174.78L211.86 182.78Z" fill="#ff00ff"/><path d="M206.63 181.01L213.63 177.01L213.63 185.01Z" fill="#ff00ff"/><path d="M208.29 182.60L215.29 178.60L215.29 186.60Z" fill="#ff00ff"/><path d="M209.88 183.58L216.88 179.58L216.88 187.58Z" fill="#ff00ff"/><path d="M211.43 183.97L218.43 179.97L218.43 187.97Z" fill="#ff00ff"/><path d="M212.98 183.77L219.98 179.77L219.98 187.77Z" fill="#ff00ff"/><path d="M214.56 183.00L221.56 179.00L221.56 187.00Z" fill="#ff00ff"/><path d="M216.20 181.66L223.20 177.66L223.20 185.66Z" fill="#ff00ff"/><path d="M217.93 179.74L224.93 175.74L224.93 183.74Z" fill="#ff00ff"/><path d="M219.77 177.23L226.77 173.23L226.77 181.23Z" fill="#ff00ff"/><path d="M221.74 174.11L228.74 170.11L228.74 178.11Z" fill="#ff00ff"/><path d="M223.89 170.35L230.89 166.35L230.89 174.35Z" fill="#ff00ff"/><path d="M226.22 165.92L233.22 161.92L233.22 169.92Z" fill="#ff00ff"/><path d="M228.79 160.75L235.79 156.75L235.79 164.75Z" fill="#ff00ff"/></g>
<g><path d="M52.21 217.36L56.81 221.50L52.21 225.64L47.61 221.50Z" fill="#000080"/><path d="M52.21 217.36L56.81 221.50L52.21 225.64L47.61 221.50Z" fill="#000080"/><path d="M52.21 217.36L56.81 221.50L52.21 225.64L47.61 221.50Z" fill="#000080"/><path d="M52.21 217.35L56.81 221.49L52.21 225.63L47.61 221.49Z" fill="#000080"/><path d="M52.21 217.35L56.81 221.49L52.21 225.63L47.61 221.49Z" fill="#000080"/><path d="M52.21 217.35L56.81 221.49L52.21 225.63L47.61 221.49Z" fill="#000080"/><path d="M52.21 217.35L56.81 221.49L52.21 225.63L47.61 221.49Z" fill="#000080"/><path d="M52.21 217.35L56.81 221.49L52.21 225.63L47.61 221.49Z" fill="#000080"/><path d="M52.21 217.35L56.81 221.49L52.21 225.63L47.61 221.49Z" fill="#000080"/><path d="M52.21 217.35L56.81 221.49L52.21 225.63L47.61 221.49Z" fill="#000080"/><path d="M52.22 217.34L56.82 221.48L52.22 225.62L47.62 221.48Z" fill="#000080"/><path d="M52.22 217.34L56.82 221.48L52.22 225.62L47.62 221.48Z" fill="#000080"/><path d="M52.22 217.34L56.82 221.48L52.22 225.62L47.62 221.48Z" fill="#000080"/><path d="M52.22 217.33L56.82 221.47L52.22 225.61L47.62 221.47Z" fill="#000080"/><path d="M52.22 217.33L56.82 221.47L52.22 225.61L47.62 221.47Z" fill="#000080"/><path d="M52.22 217.32L56.82 221.46L52.22 225.60L47.62 221.46Z" fill="#000080"/><path d="M52.22 217.32L56.82 221.46L52.22 225.60L47.62 221.46Z" fill="#000080"/><path d="M52.22 217.31L56.82 221.45L52.22 225.59L47.62 221.45Z" fill="#000080"/><path d="M52.22 217.30L56.82 221.44L52.22 225.58L47.62 221.44Z" fill="#000080"/><path d="M52.22 217.29L56.82 221.43L52.22 225.57L47.62 221.43Z" fill="#000080"/><path d="M52.22 217.28L56.82 221.42L52.22 225.56L47.62 221.42Z" fill="#000080"/><path d="M52.23 217.27L56.83 221.41L52.23 225.55L47.63 221.41Z" fill="#000080"/><path d="M52.23 217.25L56.83 221.39L52.23 225.53L47.63 221.39Z" fill="#000080"/><path d="M52.23 217.23L56.83 221.37L52.23 225.51L47.63 221.37Z" fill="#000080"/><path d="M52.23 217.21L56.83 221.35L52.23 225.49L47.63 221.35Z" fill="#000080"/><path d="M52.24 217.18L56.84 221.32L52.24 225.46L47.64 221.32Z" fill="#000080"/><path d="M52.24 217.15L56.84 221.29L52.24 225.43L47.64 221.29Z" fill="#000080"/><path d="M52.25 217.11L56.85 221.25L52.25 225.39L47.65 221.25Z" fill="#000080"/><path d="M52.25 217.07L56.85 221.21L52.25 225.35L47.65 221.21Z" fill="#000080"/><path d="M52.26 217.02L56.86 221.16L52.26 225.30L47.66 221.16Z" fill="#000080"/><path d="M52.27 216.96L56.87 221.10L52.27 225.24L47.67 221.10Z" fill="#000080"/><path d="M52.28 216.89L56.88 221.03L52.28 225.17L47.68 221.03Z" fill="#000080"/><path d="M52.29 216.81L56.89 220.95L52.29 225.09L47.69 220.95Z" fill="#000080"/><path d="M52.30 216.71L56.90 220.85L52.30 224.99L47.70 220.85Z" fill="#000080"/><path d="M52.32 216.60L56.92 220.74L52.32 224.88L47.72 220.74Z" fill="#000080"/><path d="M52.33 216.47L56.93 220.61L52.33 224.75L47.73 220.61Z" fill="#000080"/><path d="M52.36 216.31L56.96 220.45L52.36 224.59L47.76 220.45Z" fill="#000080"/><path d="M52.38 216.13L56.98 220.27L52.38 224.41L47.78 220.27Z" fill="#000080"/><path d="M52.41 215.91L57.01 220.05L52.41 224.19L47.81 220.05Z" fill="#000080"/><path d="M52.44 215.66L57.04 219.80L52.44 223.94L47.84 219.80Z" fill="#000080"/><path d="M52.49 215.37L57.09 219.51L52.49 223.65L47.89 219.51Z" fill="#000080"/><path d="M52.53 215.02L57.13 219.16L52.53 223.30L47.93 219.16Z" fill="#000080"/><path d="M52.59 214.61L57.19 218.75L52.59 222.89L47.99 218.75Z" fill="#000080"/><path d="M52.66 214.13L57.26 218.27L52.66 222.41L48.06 218.27Z" fill="#000080"/><path d="M52.74 213.57L57.34 217.71L52.74 221.85L48.14 217.71Z" fill="#000080"/><path d="M52.83 212.91L57.43 217.05L52.83 221.19L48.23 217.05Z" fill="#000080"/><path d="M52.95 212.13L57.55 216.27L52.95 220.41L48.35 216.27Z" fill="#000080"/><path d="M53.08 211.23L57.68 215.37L53.08 219.51L48.48 215.37Z" fill="#000080"/><path d="M53.24 210.16L57.84 214.30L53.24 218.44L48.64 214.30Z" fill="#000080"/><path d="M53.43 208.92L58.03 213.06L53.43 217.20L48.83 213.06Z" fill="#000080"/><path d="M53.66 207.46L58.26 211.60L53.66 215.74L49.06 211.60Z" fill="#000080"/><path d="M53.94 205.75L58.54 209.89L53.94 214.03L49.34 209.89Z" fill="#000080"/><path d="M54.26 203.76L58.86 207.90L54.26 212.04L49.66 207.90Z" fill="#000080"/><path d="M54.66 201.42L59.26 205.56L54.66 209.70L50.06 205.56Z" fill="#000080"/><path d="M55.14 198.70L59.74 202.84L55.14 206.98L50.54 202.84Z" fill="#000080"/><path d="M55.73 195.54L60.33 199.68L55.73 203.82L51.13 199.68Z" fill="#000080"/><path d="M56.44 191.85L61.04 195.99L56.44 200.13L51.84 195.99Z" fill="#000080"/><path d="M57.31 187.58L61.91 191.72L57.31 195.86L52.71 191.72Z" fill="#000080"/><path d="M58.39 182.63L62.99 186.77L58.39 190.91L53.79 186.77Z" fill="#000080"/><path d="M59.71 176.92L64.31 181.06L59.71 185.20L55.11 181.06Z" fill="#000080"/><path d="M61.34 170.37L65.94 174.51L61.34 178.65L56.74 174.51Z" fill="#000080"/><path d="M63.37 162.89L67.97 167.03L63.37 171.17L58.77 167.03Z" fill="#000080"/><path d="M65.88 154.41L70.48 158.55L65.88 162.69L61.28 158.55Z" fill="#000080"/><path d="M68.99 144.88L73.59 149.02L68.99 153.16L64.39 149.02Z" fill="#000080"/><path d="M72.86 134.29L77.46 138.43L72.86 142.57L68.26 138.43Z" fill="#000080"/><path d="M77.63 122.69L82.23 126.83L77.63 130.97L73.03 126.83Z" fill="#000080"/><path d="M83.48 110.23L88.08 114.37L83.48 118.51L78.88 114.37Z" fill="#000080"/><path d="M90.59 97.16L95.19 101.30L90.59 105.44L85.99 101.30Z" fill="#000080"/><path d="M99.13 83.89L103.73 88.03L99.13 92.17L94.53 88.03Z" fill="#000080"/><path d="M109.21 70.96L113.81 75.10L109.21 79.24L104.61 75.10Z" fill="#000080"/><path d="M120.86 59.06L125.46 63.20L120.86 67.34L116.26 63.20Z" fill="#000080"/><path d="M133.98 48.96L138.58 53.10L133.98 57.24L129.38 53.10Z" fill="#000080"/><path d="M148.34 41.43L152.94 45.57L148.34 49.71L143.74 45.57Z" fill="#000080"/><path d="M163.55 37.07L168.15 41.21L163.55 45.35L158.95 41.21Z" fill="#000080"/><path d="M179.11 36.27L183.71 40.41L179.11 44.55L174.51 40.41Z" fill="#000080"/><path d="M194.47 39.05L199.07 43.19L194.47 47.33L189.87 43.19Z" fill="#000080"/><path d="M209.12 45.09L213.72 49.23L209.12 53.37L204.52 49.23Z" fill="#000080"/><path d="M222.65 53.82L227.25 57.96L222.65 62.10L218.05 57.96Z" fill="#000080"/><path d="M234.77 64.48L239.37 68.62L234.77 72.76L230.17 68.62Z" fill="#000080"/><path d="M245.38 76.29L249.98 80.43L245.38 84.57L240.78 80.43Z" fill="#000080"/><path d="M254.48 88.52L259.08 92.66L254.48 96.80L249.88 92.66Z" fill="#000080"/><path d="M262.17 100.58L266.77 104.72L262.17 108.86L257.57 104.72Z" fill="#000080"/><path d="M268.61 112.03L273.21 116.17L268.61 120.31L264.01 116.17Z" fill="#000080"/><path d="M273.97 122.55L278.57 126.69L273.97 130.83L269.37 126.69Z" fill="#000080"/><path d="M278.44 131.97L283.04 136.11L278.44 140.25L273.84 136.11Z" fill="#000080"/><path d="M282.19 140.20L286.79 144.34L282.19 148.48L277.59 144.34Z" fill="#000080"/><path d="M285.37 147.19L289.97 151.33L285.37 155.47L280.77 151.33Z" fill="#000080"/><path d="M288.11 152.97L292.71 157.11L288.11 161.25L283.51 157.11Z" fill="#000080"/><path d="M290.51 157.57L295.11 161.71L290.51 165.85L285.91 161.71Z" fill="#000080"/><path d="M292.67 161.04L297.27 165.18L292.67 169.32L288.07 165.18Z" fill="#000080"/><path d="M294.67 163.42L299.27 167.56L294.67 171.70L290.07 167.56Z" fill="#000080"/><path d="M296.56 164.75L301.16 168.89L296.56 173.03L291.96 168.89Z" fill="#000080"/><path d="M298.41 165.07L303.01 169.21L298.41 173.35L293.81 169.21Z" fill="#000080"/><path d="M300.27 164.38L304.87 168.52L300.27 172.66L295.67 168.52Z" fill="#000080"/><path d="M302.19 162.70L306.79 166.84L302.19 170.98L297.59 166.84Z" fill="#000080"/><path d="M304.19 160.01L308.79 164.15L304.19 168.29L299.59 164.15Z" fill="#000080"/><path d="M306.34 156.28L310.94 160.42L306.34 164.56L301.74 160.42Z" fill="#000080"/><path d="M308.66 151.46L313.26 155.60L308.66 159.74L304.06 155.60Z" fill="#000080"/><path d="M311.21 145.48L315.81 149.62L311.21 153.76L306.61 149.62Z" fill="#000080"/></g>
<g><path d="M54.38 221.50L46.85 217.20L46.85 225.80Z" fill="#808000"/><path d="M54.38 221.50L46.85 217.20L46.85 225.80Z" fill="#808000"/><path d="M54.38 221.50L46.85 217.20L46.85 225.80Z" fill="#808000"/><path d="M54.38 221.50L46.85 217.20L46.85 225.80Z" fill="#808000"/><path d="M54.38 221.50L46.85 217.20L46.85 225.80Z" fill="#808000"/><path d="M54.38 221.50L46.85 217.20L46.85 225.80Z" fill="#808000"/><path d="M54.38 221.50L46.85 217.20L46.85 225.80Z" fill="#808000"/><path d="M54.38 221.50L46.85 217.20L46.85 225.80Z" fill="#808000"/><path d="M54.38 221.50L46.85 217.20L46.85 225.80Z" fill="#808000"/><path d="M54.38 221.50L46.85 217.20L46.85 225.80Z" fill="#808000"/><path d="M54.38 221.50L46.85 217.20L46.85 225.80Z" fill="#808000"/><path d="M54.38 221.50L46.85 217.20L46.85 225.80Z" fill="#808000"/><path d="M54.38 221.50L46.85 217.20L46.85 225.80Z" fill="#808000"/><path d="M54.38 221.50L46.85 217.20L46.85 225.80Z" fill="#808000"/><path d="M54.38 221.50L46.85 217.20L46.85 225.80Z" fill="#808000"/><path d="M54.38 221.50L46.85 217.20L46.85 225.80Z" fill="#808000"/><path d="M54.38 221.50L46.85 217.20L46.85 225.80Z" fill="#808000"/><path d="M54.38 221.49L46.86 217.19L46.86 225.79Z" fill="#808000"/><path d="M54.38 221.49L46.86 217.19L46.86 225.79Z" fill="#808000"/><path d="M54.38 221.49L46.86 217.19L46.86 225.79Z" fill="#808000"/><path d="M54.38 221.49L46.86 217.19L46.86 225.79Z" fill="#808000"/><path d="M54.38 221.49L46.86 217.19L46.86 225.79Z" fill="#808000"/><path d="M54.38 221.49L46.86 217.19L46.86 225.79Z" fill="#808000"/><path d="M54.38 221.48L46.86 217.18L46.86 225.78Z" fill="#808000"/><path d="M54.38 221.48L46.86 217.18L46.86 225.78Z" fill="#808000"/><path d="M54.38 221.48L46.86 217.18L46.86 225.78Z" fill="#808000"/><path d="M54.38 221.48L46.86 217.18L46.86 225.78Z" fill="#808000"/><path d="M54.38 221.47L46.86 217.17L46.86 225.77Z" fill="#808000"/><path d="M54.38 221.47L46.86 217.17L46.86 225.77Z" fill="#808000"/><path d="M54.38 221.46L46.86 217.16L46.86 225.76Z" fill="#808000"/><path d="M54.38 221.45L46.86 217.15L46.86 225.75Z" fill="#808000"/><path d="M54.39 221.44L46.86 217.14L46.86 225.74Z" fill="#808000"/><path d="M54.39 221.43L46.86 217.13L46.86 225.73Z" fill="#808000"/><path d="M54.39 221.42L46.86 217.12L46.86 225.72Z" fill="#808000"/><path d="M54.39 221.41L46.86 217.11L46.86 225.71Z" fill="#808000"/><path d="M54.39 221.39L46.87 217.09L46.87 225.69Z" fill="#808000"/><path d="M54.39 221.37L46.87 217.07L46.87 225.67Z" fill="#808000"/><path d="M54.40 221.34L46.87 217.04L46.87 225.64Z" fill="#808000"/><path d="M54.40 221.32L46.87 217.02L46.87 225.62Z" fill="#808000"/><path d="M54.40 221.28L46.88 216.98L46.88 225.58Z" fill="#808000"/><path d="M54.41 221.24L46.88 216.94L46.88 225.54Z" fill="#808000"/><path d="M54.41 221.19L46.89 216.89L46.89 225.49Z" fill="#808000"/><path d="M54.42 221.14L46.89 216.84L46.89 225.44Z" fill="#808000"/><path d="M54.43 221.07L46.90 216.77L46.90 225.37Z" fill="#808000"/><path d="M54.43 221.00L46.91 216.70L46.91 225.30Z" fill="#808000"/><path d="M54.44 220.90L46.92 216.60L46.92 225.20Z" fill="#808000"/><path d="M54.46 220.80L46.93 216.50L46.93 225.10Z" fill="#808000"/><path d="M54.47 220.67L46.94 216.37L46.94 224.97Z" fill="#808000"/><path d="M54.49 220.52L46.96 216.22L46.96 224.82Z" fill="#808000"/><path d="M54.51 220.34L46.98 216.04L46.98 224.64Z" fill="#808000"/><path d="M54.53 220.13L47.00 215.83L47.00 224.43Z" fill="#808000"/><path d="M54.56 219.88L47.03 215.58L47.03 224.18Z" fill="#808000"/><path d="M54.59 219.58L47.06 215.28L47.06 223.88Z" fill="#808000"/><path d="M54.63 219.23L47.10 214.93L47.10 223.53Z" fill="#808000"/><path d="M54.68 218.82L47.15 214.52L47.15 223.12Z" fill="#808000"/><path d="M54.73 218.34L47.21 214.04L47.21 222.64Z" fill="#808000"/><path d="M54.80 217.76L47.27 213.46L47.27 222.06Z" fill="#808000"/><path d="M54.88 217.09L47.35 212.79L47.35 221.39Z" fill="#808000"/><path d="M54.97 216.29L47.45 211.99L47.45 220.59Z" fill="#808000"/><path d="M55.09 215.35L47.57 211.05L47.57 219.65Z" fill="#808000"/><path d="M55.23 214.24L47.70 209.94L47.70 218.54Z" fill="#808000"/><path d="M55.40 212.93L47.87 208.63L47.87 217.23Z" fill="#808000"/><path d="M55.60 211.39L48.08 207.09L48.08 215.69Z" fill="#808000"/><path d="M55.86 209.57L48.33 205.27L48.33 213.87Z" fill="#808000"/><path d="M56.16 207.44L48.64 203.14L48.64 211.74Z" fill="#808000"/><path d="M56.54 204.93L49.01 200.63L49.01 209.23Z" fill="#808000"/><path d="M57.01 202.00L49.48 197.70L49.48 206.30Z" fill="#808000"/><path d="M57.59 198.56L50.06 194.26L50.06 202.86Z" fill="#808000"/><path d="M58.31 194.54L50.78 190.24L50.78 198.84Z" fill="#808000"/><path d="M59.21 189.86L51.69 185.56L51.69 194.16Z" fill="#808000"/><path d="M60.35 184.43L52.83 180.13L52.83 188.73Z" fill="#808000"/><path d="M61.79 178.16L54.26 173.86L54.26 182.46Z" fill="#808000"/><path d="M63.61 170.96L56.08 166.66L56.08 175.26Z" fill="#808000"/><path d="M65.91 162.77L58.39 158.47L58.39 167.07Z" fill="#808000"/><path d="M68.83 153.53L61.30 149.23L61.30 157.83Z" fill="#808000"/><path d="M72.51 143.27L64.99 138.97L64.99 147.57Z" fill="#808000"/><path d="M77.13 132.07L69.61 127.77L69.61 136.37Z" fill="#808000"/><path d="M82.88 120.13L75.36 115.83L75.36 124.43Z" fill="#808000"/><path d="M89.95 107.78L82.42 103.48L82.42 112.08Z" fill="#808000"/><path d="M98.47 95.54L90.94 91.24L90.94 99.84Z" fill="#808000"/><path d="M108.52 84.08L100.99 79.78L100.99 88.38Z" fill="#808000"/><path d="M120.05 74.18L112.53 69.88L112.53 78.48Z" fill="#808000"/><path d="M132.85 66.66L125.33 62.36L125.33 70.96Z" fill="#808000"/><path d="M146.55 62.19L139.02 57.89L139.02 66.49Z" fill="#808000"/><path d="M160.63 61.20L153.11 56.90L153.11 65.50Z" fill="#808000"/><path d="M174.54 63.74L167.01 59.44L167.01 68.04Z" fill="#808000"/><path d="M187.73 69.48L180.21 65.18L180.21 73.78Z" fill="#808000"/><path d="M199.79 77.80L192.26 73.50L192.26 82.10Z" fill="#808000"/><path d="M210.46 87.88L202.93 83.58L202.93 92.18Z" fill="#808000"/><path d="M219.64 98.93L212.12 94.63L212.12 103.23Z" fill="#808000"/><path d="M227.38 110.20L219.86 105.90L219.86 114.50Z" fill="#808000"/><path d="M233.81 121.13L226.28 116.83L226.28 125.43Z" fill="#808000"/><path d="M239.09 131.32L231.57 127.02L231.57 135.62Z" fill="#808000"/><path d="M243.43 140.49L235.91 136.19L235.91 144.79Z" fill="#808000"/><path d="M247.01 148.52L239.48 144.22L239.48 152.82Z" fill="#808000"/><path d="M249.99 155.33L242.46 151.03L242.46 159.63Z" fill="#808000"/><path d="M252.50 160.93L244.98 156.63L244.98 165.23Z" fill="#808000"/><path d="M254.68 165.34L247.16 161.04L247.16 169.64Z" fill="#808000"/><path d="M256.62 168.61L249.09 164.31L249.09 172.91Z" fill="#808000"/><path d="M258.39 170.78L250.87 166.48L250.87 175.08Z" fill="#808000"/><path d="M260.07 171.88L252.55 167.58L252.55 176.18Z" fill="#808000"/><path d="M261.72 171.96L254.19 167.66L254.19 176.26Z" fill="#808000"/><path d="M263.37 171.02L255.85 166.72L255.85 175.32Z" fill="#808000"/><path d="M265.09 169.06L257.57 164.76L257.57 173.36Z" fill="#808000"/><path d="M266.91 166.06L259.38 161.76L259.38 170.36Z" fill="#808000"/></g>
<polyline points="52.1,221.4 52.1,221.4 52.1,221.4 52.1,221.4 52.1,221.4 52.1,221.4 52.1,221.4 52.1,221.4 52.1,221.4 52.1,221.4 52.1,221.4 52.1,221.3 52.1,221.3 52.1,221.3 52.1,221.3 52.1,221.3 52.1,221.3 52.1,221.3 52.1,221.3 52.1,221.3 52.1,221.3 52.1,221.3 52.1,221.3 52.1,221.3 52.1,221.2 52.1,221.2 52.1,221.2 52.1,221.2 52.1,221.2 52.1,221.2 52.1,221.2 52.1,221.2 52.1,221.1 52.1,221.1 52.1,221.1 52.1,221.1 52.2,221.1 52.2,221.1 52.2,221.1 52.2,221.0 52.2,221.0 52.2,221.0 52.2,221.0 52.2,221.0 52.2,220.9 52.2,220.9 52.2,220.9 52.2,220.9 52.2,220.8 52.2,220.8 52.2,220.8 52.3,220.8 52.3,220.7 52.3,220.7 52.3,220.7 52.3,220.6 52.3,220.6 52.3,220.6 52.3,220.5 52.3,220.5 52.3,220.5 52.4,220.4 52.4,220.4 52.4,220.3 52.4,220.3 52.4,220.2 52.4,220.2 52.4,220.1 52.5,220.1 52.5,220.0 52.5,220.0 52.5,219.9 52.5,219.8 52.6,219.8 52.6,219.7 52.6,219.6 52.6,219.6 52.7,219.5 52.7,219.4 52.7,219.3 52.7,219.3 52.8,219.2 52.8,219.1 52.8,219.0 52.9,218.9 52.9,218.8 52.9,218.7 53.0,218.6 53.0,218.5 53.1,218.4 53.1,218.2 53.1,218.1 53.2,218.0 53.2,217.9 53.3,217.7 53.3,217.6 53.4,217.4 53.4,217.3 53.5,217.1 53.6,217.0 53.6,216.8 53.7,216.6 53.8,216.5 53.8,216.3 53.9,216.1 54.0,215.9 54.1,215.7 54.2,215.5 54.3,215.3 54.4,215.1 54.5,214.8 54.6,214.6 54.7,214.4 54.8,214.1 54.9,213.9 55.0,213.6 55.2,213.4 55.3,213.1 55.4,212.8 55.6,212.5 55.7,212.3 55.9,212.0 56.0,211.7 56.2,211.4 56.4,211.0 56.6,210.7 56.8,210.4 57.0,210.1 57.2,209.7 57.4,209.4 57.6,209.1 57.9,208.7 58.1,208.4 58.4,208.0 58.6,207.7 58.9,207.3 59.2,207.0 59.5,206.6 59.8,206.3 60.1,205.9 60.4,205.6 60.7,205.2 61.0,204.9 61.4,204.5 61.8,204.2 62.1,203.9 62.5,203.5 62.9,203.2 63.3,202.9 63.7,202.6 64.1,202.3 64.5,202.1 65.0,201.8 65.4,201.6 65.9,201.3 66.3,201.1 66.8,200.9 67.2,200.7 67.7,200.6 68.2,200.4 68.7,200.3 69.2,200.2 69.6,200.1 70.1,200.0 70.6,200.0 71.1,199.9 71.6,199.9 72.1,199.9 72.6,199.9 73.1,199.9 73.6,200.0 74.0,200.1 74.5,200.1 75.0,200.2 75.5,200.4 75.9,200.5 76.4,200.6 76.8,200.8 77.3,201.0 77.7,201.1 78.1,201.3 78.6,201.5 79.0,201.7 79.4,201.9 79.8,202.1 80.2,202.4 80.6,202.6 80.9,202.8 81.3,203.0 81.7,203.3 82.0,203.5 82.4,203.7 82.7,203.9 83.0,204.2 83.3,204.4 83.7,204.6 84.0,204.8 84.3,205.0 84.6,205.2 84.9,205.4 85.1,205.6 85.4,205.8 85.7,206.0 85.9,206.1 86.2,206.3 86.5,206.5 86.7,206.6 87.0,206.7 87.2,206.9 87.4,207.0 87.7,207.1 87.9,207.2 88.1,207.3 88.4,207.3 88.6,207.4 88.8,207.4 89.0,207.5 89.3,207.5 89.5,207.5 89.7,207.5 89.9,207.5 90.1,207.5 90.3,207.5 90.6,207.5 90.8,207.4 91.0,207.3 91.2,207.3 91.4,207.2 91.6,207.1 91.9,207.0 92.1,206.8 92.3,206.7 92.5,206.6 92.8,206.4 93.0,206.2 93.2,206.0 93.5,205.8 93.7,205.6 93.9,205.4 94.2,205.1 94.4,204.9 94.7,204.6 95.0,204.3 95.2,204.0 95.5,203.7 95.8,203.4 96.0,203.0 96.3,202.7 96.6,202.3 96.9,201.9 97.2,201.5 97.5,201.1 97.8,200.6 98.2,200.2 98.5,199.7 98.8,199.2 99.2,198.7 99.5,198.1 99.9,197.6 100.2,197.0 100.6,196.4 101.0,195.8 101.4,195.2 101.8,194.5 102.2,193.8 102.7,193.1 103.1,192.4 103.6,191.6 104.0,190.9 104.5,190.1 105.0,189.3 105.5,188.4 106.0,187.5 106.5,186.6 107.1,185.7 107.6,184.7 108.2,183.8 108.8,182.7 109.4,181.7 110.0,180.6 110.7,179.5 111.3,178.3 112.0,177.2 112.7,175.9 113.4,174.7 114.1,173.4 114.9,172.1 115.6,170.7 116.4,169.3 117.2,167.8 118.1,166.3 118.9,164.8 119.8,163.2 120.7,161.6 121.7,159.9 122.6,158.1 123.6,156.4 124.6,154.5 125.7,152.6 126.8,150.7" fill="none" stroke="#000000" stroke-width="1.7" stroke-linejoin="round"/>
<polyline points="51.8,221.1 51.8,221.1 51.8,221.0 51.8,221.0 51.8,221.0 51.8,221.0 51.8,221.0 51.8,221.0 51.8,220.9 51.8,220.9 51.8,220.9 51.8,220.9 51.8,220.8 51.8,220.8 51.8,220.8 51.8,220.8 51.9,220.8 51.9,220.7 51.9,220.7 51.9,220.7 51.9,220.6 51.9,220.6 51.9,220.6 51.9,220.5 51.9,220.5 51.9,220.5 51.9,220.4 51.9,220.4 51.9,220.4 51.9,220.3 52.0,220.3 52.0,220.2 52.0,220.2 52.0,220.1 52.0,220.1 52.0,220.0 52.0,220.0 52.0,219.9 52.0,219.9 52.1,219.8 52.1,219.8 52.1,219.7 52.1,219.6 52.1,219.6 52.1,219.5 52.2,219.4 52.2,219.4 52.2,219.3 52.2,219.2 52.2,219.1 52.2,219.1 52.3,219.0 52.3,218.9 52.3,218.8 52.3,218.7 52.4,218.6 52.4,218.5 52.4,218.4 52.4,218.3 52.5,218.2 52.5,218.1 52.5,217.9 52.6,217.8 52.6,217.7 52.6,217.6 52.7,217.4 52.7,217.3 52.7,217.1 52.8,217.0 52.8,216.8 52.9,216.7 52.9,216.5 53.0,216.3 53.0,216.2 53.1,216.0 53.1,215.8 53.2,215.6 53.2,215.4 53.3,215.2 53.3,215.0 53.4,214.8 53.5,214.6 53.6,214.3 53.6,214.1 53.7,213.8 53.8,213.6 53.9,213.3 54.0,213.1 54.0,212.8 54.1,212.5 54.2,212.2 54.3,211.9 54.5,211.6 54.6,211.3 54.7,211.0 54.8,210.6 54.9,210.3 55.1,209.9 55.2,209.6 55.3,209.2 55.5,208.8 55.6,208.5 55.8,208.1 56.0,207.7 56.2,207.3 56.3,206.8 56.5,206.4 56.7,206.0 56.9,205.5 57.2,205.1 57.4,204.6 57.6,204.1 57.9,203.7 58.1,203.2 58.4,202.7 58.7,202.2 58.9,201.7 59.2,201.2 59.5,200.7 59.9,200.2 60.2,199.6 60.5,199.1 60.9,198.6 61.3,198.1 61.6,197.5 62.0,197.0 62.4,196.5 62.8,196.0 63.3,195.5 63.7,195.0 64.2,194.4 64.6,193.9 65.1,193.5 65.6,193.0 66.1,192.5 66.7,192.0 67.2,191.6 67.7,191.2 68.3,190.8 68.9,190.4 69.5,190.0 70.0,189.6 70.6,189.3 71.3,189.0 71.9,188.7 72.5,188.4 73.1,188.1 73.8,187.9 74.4,187.7 75.1,187.5 75.7,187.4 76.4,187.3 77.1,187.2 77.7,187.1 78.4,187.1 79.0,187.1 79.7,187.1 80.4,187.1 81.0,187.2 81.7,187.3 82.3,187.4 83.0,187.6 83.6,187.7 84.2,187.9 84.9,188.1 85.5,188.4 86.1,188.6 86.7,188.9 87.3,189.2 87.8,189.5 88.4,189.8 89.0,190.1 89.5,190.5 90.1,190.8 90.6,191.2 91.1,191.5 91.6,191.9 92.1,192.3 92.6,192.7 93.0,193.1 93.5,193.5 93.9,193.9 94.3,194.2 94.8,194.6 95.2,195.0 95.6,195.4 96.0,195.8 96.3,196.2 96.7,196.5 97.1,196.9 97.4,197.3 97.8,197.6 98.1,198.0 98.4,198.3 98.7,198.6 99.0,199.0 99.3,199.3 99.6,199.6 99.9,199.8 100.2,200.1 100.5,200.4 100.7,200.6 101.0,200.9 101.3,201.1 101.5,201.3 101.8,201.6 102.0,201.8 102.3,201.9 102.5,202.1 102.7,202.3 102.9,202.4 103.2,202.5 103.4,202.7 103.6,202.8 103.8,202.9 104.1,203.0 104.3,203.0 104.5,203.1 104.7,203.1 104.9,203.2 105.1,203.2 105.3,203.2 105.5,203.2 105.7,203.1 105.9,203.1 106.2,203.1 106.4,203.0 106.6,202.9 106.8,202.8 107.0,202.7 107.2,202.6 107.4,202.5 107.6,202.4 107.9,202.2 108.1,202.0 108.3,201.9 108.5,201.7 108.7,201.4 109.0,201.2 109.2,201.0 109.4,200.7 109.7,200.5 109.9,200.2 110.2,199.9 110.4,199.6 110.7,199.3 110.9,198.9 111.2,198.6 111.4,198.2 111.7,197.8 112.0,197.4 112.3,197.0 112.5,196.6 112.8,196.1 113.1,195.7 113.4,195.2 113.7,194.7 114.0,194.2 114.4,193.6 114.7,193.1 115.0,192.5 115.4,191.9 115.7,191.3 116.1,190.7 116.4,190.0 116.8,189.4 117.2,188.7 117.6,188.0 117.9,187.2 118.3,186.5 118.8,185.7 119.2,184.9 119.6,184.1 120.1,183.2 120.5,182.4 121.0,181.5 121.4,180.6 121.9,179.6 122.4,178.7 122.9,177.7 123.4,176.6 124.0,175.6 124.5,174.5 125.1,173.4 125.6,172.3 126.2,171.1 126.8,169.9 127.4,168.7 128.1,167.4 128.7,166.1 129.4,164.8 130.0,163.4 130.7,162.0 131.4,160.5 132.1,159.1 132.9,157.5 133.6,156.0 134.4,154.4 135.2,152.8 136.0,151.1" fill="none" stroke="#ff0000" stroke-width="1.7" stroke-linejoin="round"/>
<polyline points="50.0,220.9 50.0,220.9 50.0,220.8 50.0,220.8 50.0,220.8 50.0,220.7 50.0,220.7 50.0,220.7 50.0,220.6 50.0,220.6 50.0,220.6 50.0,220.5 50.0,220.5 50.1,220.5 50.1,220.4 50.1,220.4 50.1,220.3 50.1,220.3 50.1,220.2 50.1,220.2 50.1,220.1 50.1,220.1 50.1,220.0 50.1,220.0 50.1,219.9 50.1,219.9 50.1,219.8 50.2,219.7 50.2,219.7 50.2,219.6 50.2,219.5 50.2,219.5 50.2,219.4 50.2,219.3 50.2,219.2 50.2,219.1 50.3,219.0 50.3,218.9 50.3,218.8 50.3,218.7 50.3,218.6 50.3,218.5 50.3,218.4 50.4,218.3 50.4,218.2 50.4,218.0 50.4,217.9 50.4,217.8 50.5,217.6 50.5,217.5 50.5,217.3 50.5,217.2 50.6,217.0 50.6,216.8 50.6,216.7 50.6,216.5 50.7,216.3 50.7,216.1 50.7,215.9 50.8,215.7 50.8,215.5 50.8,215.2 50.9,215.0 50.9,214.7 51.0,214.5 51.0,214.2 51.1,214.0 51.1,213.7 51.2,213.4 51.2,213.1 51.3,212.8 51.3,212.5 51.4,212.1 51.4,211.8 51.5,211.4 51.6,211.0 51.7,210.7 51.7,210.3 51.8,209.8 51.9,209.4 52.0,209.0 52.1,208.5 52.2,208.0 52.3,207.6 52.4,207.0 52.5,206.5 52.6,206.0 52.8,205.4 52.9,204.9 53.0,204.3 53.2,203.6 53.4,203.0 53.5,202.4 53.7,201.7 53.9,201.0 54.1,200.3 54.3,199.5 54.5,198.8 54.7,198.0 54.9,197.2 55.2,196.4 55.4,195.5 55.7,194.7 56.0,193.8 56.3,192.8 56.6,191.9 56.9,190.9 57.3,190.0 57.6,188.9 58.0,187.9 58.4,186.9 58.9,185.8 59.3,184.7 59.8,183.6 60.3,182.4 60.8,181.3 61.3,180.1 61.9,178.9 62.5,177.7 63.1,176.5 63.8,175.3 64.4,174.0 65.1,172.8 65.9,171.6 66.7,170.3 67.5,169.1 68.3,167.8 69.2,166.6 70.1,165.4 71.0,164.2 72.0,163.0 73.0,161.9 74.0,160.7 75.1,159.6 76.2,158.5 77.3,157.5 78.5,156.5 79.7,155.5 80.9,154.6 82.2,153.8 83.5,153.0 84.8,152.2 86.1,151.5 87.5,150.9 88.9,150.4 90.3,149.9 91.7,149.4 93.1,149.0 94.6,148.7 96.0,148.5 97.5,148.3 98.9,148.2 100.4,148.2 101.9,148.2 103.3,148.2 104.8,148.4 106.2,148.6 107.6,148.9 109.0,149.2 110.4,149.6 111.8,150.0 113.2,150.5 114.5,151.1 115.8,151.7 117.1,152.3 118.3,153.0 119.6,153.8 120.8,154.5 121.9,155.4 123.1,156.2 124.2,157.1 125.3,158.0 126.3,159.0 127.4,159.9 128.3,160.9 129.3,161.9 130.2,162.8 131.1,163.8 132.0,164.8 132.9,165.9 133.7,166.9 134.5,167.8 135.2,168.8 136.0,169.8 136.7,170.8 137.4,171.7 138.0,172.7 138.7,173.6 139.3,174.5 139.9,175.4 140.5,176.3 141.1,177.1 141.6,178.0 142.1,178.8 142.6,179.6 143.1,180.3 143.6,181.1 144.1,181.8 144.6,182.5 145.0,183.1 145.4,183.8 145.9,184.4 146.3,185.0 146.7,185.6 147.1,186.1 147.5,186.6 147.8,187.1 148.2,187.6 148.6,188.1 148.9,188.5 149.3,188.9 149.6,189.3 150.0,189.7 150.3,190.0 150.6,190.3 151.0,190.6 151.3,190.9 151.6,191.1 151.9,191.4 152.3,191.6 152.6,191.8 152.9,191.9 153.2,192.1 153.5,192.2 153.8,192.3 154.1,192.4 154.4,192.5 154.8,192.6 155.1,192.6 155.4,192.6 155.7,192.6 156.0,192.6 156.3,192.6 156.6,192.6 157.0,192.5 157.3,192.4 157.6,192.3 157.9,192.2 158.3,192.1 158.6,191.9 158.9,191.8 159.3,191.6 159.6,191.4 159.9,191.2 160.3,191.0 160.6,190.7 161.0,190.5 161.3,190.2 161.7,189.9 162.1,189.6 162.4,189.3 162.8,189.0 163.2,188.6 163.6,188.3 164.0,187.9 164.4,187.5 164.8,187.1 165.2,186.7 165.6,186.3 166.0,185.8 166.5,185.4 166.9,184.9 167.3,184.4 167.8,183.9 168.2,183.3 168.7,182.8 169.2,182.2 169.7,181.7 170.1,181.1 170.6,180.5 171.1,179.9 171.6,179.2 172.2,178.6 172.7,177.9 173.2,177.2 173.8,176.5 174.3,175.8 174.9,175.1 175.5,174.3 176.0,173.5 176.6,172.7 177.2,171.9 177.9,171.1 178.5,170.3 179.1,169.4 179.8,168.5 180.4,167.6 181.1,166.7 181.8,165.7 182.5,164.8 183.2,163.8 183.9,162.8 184.6,161.8 185.4,160.7 186.1,159.7 186.9,158.6 187.7,157.5 188.5,156.3 189.3,155.2 190.1,154.0" fill="none" stroke="#008080" stroke-width="1.7" stroke-linejoin="round"/>
<polyline points="50.6,221.5 50.6,221.5 50.6,221.5 50.6,221.5 50.6,221.5 50.6,221.5 50.6,221.5 50.6,221.5 50.6,221.5 50.6,221.4 50.6,221.4 50.6,221.4 50.6,221.4 50.6,221.4 50.6,221.4 50.6,221.4 50.6,221.4 50.6,221.4 50.6,221.4 50.6,221.4 50.6,221.4 50.6,221.4 50.6,221.4 50.6,221.4 50.6,221.4 50.6,221.4 50.6,221.4 50.6,221.4 50.6,221.4 50.6,221.4 50.6,221.4 50.6,221.4 50.6,221.4 50.6,221.4 50.6,221.3 50.6,221.3 50.6,221.3 50.6,221.3 50.6,221.3 50.6,221.3 50.6,221.3 50.6,221.3 50.6,221.3 50.6,221.3 50.6,221.3 50.6,221.2 50.6,221.2 50.6,221.2 50.6,221.2 50.6,221.2 50.6,221.2 50.6,221.2 50.6,221.1 50.6,221.1 50.6,221.1 50.6,221.1 50.6,221.1 50.6,221.1 50.6,221.0 50.6,221.0 50.6,221.0 50.7,221.0 50.7,220.9 50.7,220.9 50.7,220.9 50.7,220.9 50.7,220.8 50.7,220.8 50.7,220.8 50.7,220.7 50.7,220.7 50.7,220.7 50.7,220.6 50.7,220.6 50.7,220.6 50.7,220.5 50.7,220.5 50.7,220.4 50.7,220.4 50.8,220.3 50.8,220.3 50.8,220.2 50.8,220.1 50.8,220.1 50.8,220.0 50.8,220.0 50.8,219.9 50.8,219.8 50.9,219.7 50.9,219.6 50.9,219.6 50.9,219.5 50.9,219.4 50.9,219.3 50.9,219.2 51.0,219.1 51.0,219.0 51.0,218.9 51.0,218.7 51.0,218.6 51.1,218.5 51.1,218.3 51.1,218.2 51.1,218.0 51.2,217.9 51.2,217.7 51.2,217.6 51.3,217.4 51.3,217.2 51.3,217.0 51.4,216.8 51.4,216.6 51.5,216.4 51.5,216.1 51.6,215.9 51.6,215.6 51.7,215.4 51.7,215.1 51.8,214.8 51.9,214.5 51.9,214.2 52.0,213.9 52.1,213.5 52.1,213.2 52.2,212.8 52.3,212.4 52.4,212.0 52.5,211.6 52.6,211.2 52.7,210.8 52.9,210.3 53.0,209.8 53.1,209.3 53.3,208.8 53.4,208.3 53.6,207.7 53.7,207.1 53.9,206.5 54.1,205.9 54.3,205.2 54.5,204.5 54.8,203.7 55.0,203.0 55.3,202.2 55.5,201.4 55.8,200.5 56.1,199.7 56.5,198.8 56.8,197.9 57.2,197.0 57.6,196.0 58.0,195.0 58.4,194.0 58.9,193.0 59.4,192.0 59.9,190.9 60.4,189.9 61.0,188.8 61.6,187.7 62.2,186.6 62.9,185.5 63.6,184.4 64.3,183.3 65.1,182.2 65.9,181.1 66.7,180.0 67.6,178.9 68.5,177.8 69.4,176.8 70.4,175.8 71.4,174.8 72.4,173.9 73.5,173.0 74.6,172.1 75.8,171.3 76.9,170.6 78.1,169.9 79.3,169.3 80.6,168.7 81.8,168.2 83.1,167.8 84.3,167.5 85.6,167.2 86.9,167.0 88.2,166.9 89.5,166.8 90.8,166.8 92.1,166.9 93.4,167.1 94.6,167.3 95.9,167.6 97.1,168.0 98.3,168.4 99.5,168.8 100.7,169.4 101.8,169.9 102.9,170.5 104.0,171.2 105.1,171.8 106.1,172.5 107.1,173.3 108.1,174.0 109.1,174.8 110.0,175.6 110.9,176.3 111.7,177.1 112.5,177.9 113.4,178.7 114.1,179.5 114.9,180.2 115.6,181.0 116.3,181.8 117.0,182.5 117.7,183.2 118.3,183.9 118.9,184.6 119.5,185.3 120.1,185.9 120.7,186.5 121.2,187.1 121.7,187.7 122.3,188.2 122.8,188.7 123.3,189.2 123.7,189.7 124.2,190.1 124.7,190.5 125.1,190.9 125.6,191.3 126.0,191.6 126.5,191.9 126.9,192.2 127.3,192.4 127.7,192.7 128.1,192.9 128.6,193.0 129.0,193.2 129.4,193.3 129.8,193.4 130.2,193.5 130.6,193.5 131.0,193.6 131.4,193.6 131.8,193.5 132.2,193.5 132.6,193.4 133.0,193.3 133.4,193.1 133.8,193.0 134.3,192.8 134.7,192.6 135.1,192.4 135.5,192.1 136.0,191.9 136.4,191.6 136.9,191.3 137.3,190.9 137.8,190.6 138.2,190.2 138.7,189.8 139.2,189.4 139.6,189.0 140.1,188.5 140.6,188.0 141.1,187.5 141.7,187.0 142.2,186.5 142.7,185.9 143.2,185.3 143.8,184.7 144.4,184.0 144.9,183.4 145.5,182.7 146.1,182.0 146.7,181.3 147.3,180.5 147.9,179.8 148.6,179.0 149.2,178.1 149.9,177.3 150.6,176.4 151.3,175.6 152.0,174.7 152.7,173.8 153.4,172.8 154.2,171.9 154.9,170.9 155.7,169.9 156.5,168.8 157.3,167.8 158.2,166.7 159.0,165.5 159.9,164.4 160.8,163.2 161.7,162.0 162.6,160.7 163.5,159.5 164.5,158.2 165.5,156.8 166.5,155.5" fill="none" stroke="#0000ff" stroke-width="1.7" stroke-linejoin="round"/>
<polyline points="50.6,221.5 50.6,221.5 50.6,221.5 50.6,221.5 50.6,221.5 50.6,221.5 50.6,221.5 50.6,221.5 50.6,221.5 50.6,221.5 50.6,221.5 50.6,221.5 50.6,221.5 50.6,221.5 50.6,221.5 50.6,221.5 50.6,221.5 50.6,221.5 50.6,221.5 50.6,221.5 50.6,221.5 50.6,221.5 50.6,221.5 50.6,221.5 50.6,221.5 50.6,221.5 50.6,221.5 50.6,221.5 50.6,221.5 50.6,221.5 50.6,221.5 50.6,221.5 50.6,221.5 50.6,221.5 50.6,221.5 50.6,221.5 50.6,221.5 50.6,221.5 50.6,221.5 50.6,221.5 50.6,221.5 50.6,221.5 50.6,221.5 50.6,221.5 50.6,221.5 50.6,221.5 50.6,221.5 50.6,221.5 50.6,221.5 50.6,221.5 50.6,221.5 50.6,221.5 50.6,221.5 50.6,221.5 50.6,221.5 50.6,221.5 50.6,221.5 50.6,221.5 50.6,221.5 50.6,221.5 50.6,221.5 50.6,221.5 50.6,221.5 50.6,221.5 50.6,221.5 50.6,221.5 50.6,221.5 50.6,221.5 50.6,221.5 50.6,221.5 50.6,221.5 50.6,221.5 50.6,221.5 50.6,221.5 50.6,221.5 50.6,221.5 50.6,221.5 50.6,221.5 50.6,221.5 50.6,221.5 50.6,221.5 50.6,221.4 50.6,221.4 50.6,221.4 50.6,221.4 50.6,221.4 50.6,221.4 50.6,221.4 50.6,221.4 50.6,221.4 50.6,221.4 50.6,221.4 50.6,221.4 50.6,221.4 50.6,221.4 50.6,221.4 50.6,221.4 50.6,221.4 50.6,221.4 50.6,221.3 50.6,221.3 50.6,221.3 50.6,221.3 50.6,221.3 50.6,221.3 50.6,221.3 50.6,221.3 50.6,221.3 50.6,221.2 50.6,221.2 50.6,221.2 50.6,221.2 50.6,221.2 50.6,221.2 50.6,221.1 50.6,221.1 50.7,221.1 50.7,221.1 50.7,221.0 50.7,221.0 50.7,221.0 50.7,220.9 50.7,220.9 50.7,220.9 50.7,220.8 50.7,220.8 50.7,220.8 50.7,220.7 50.7,220.7 50.7,220.6 50.7,220.6 50.7,220.5 50.8,220.4 50.8,220.4 50.8,220.3 50.8,220.2 50.8,220.2 50.8,220.1 50.8,220.0 50.8,219.9 50.9,219.8 50.9,219.7 50.9,219.6 50.9,219.5 50.9,219.4 51.0,219.2 51.0,219.1 51.0,218.9 51.0,218.8 51.1,218.6 51.1,218.5 51.1,218.3 51.2,218.1 51.2,217.9 51.2,217.7 51.3,217.4 51.3,217.2 51.4,216.9 51.4,216.6 51.5,216.4 51.5,216.0 51.6,215.7 51.7,215.4 51.7,215.0 51.8,214.6 51.9,214.2 52.0,213.8 52.0,213.3 52.1,212.8 52.2,212.3 52.4,211.8 52.5,211.2 52.6,210.6 52.7,209.9 52.9,209.2 53.0,208.5 53.2,207.8 53.4,206.9 53.6,206.1 53.8,205.2 54.0,204.2 54.2,203.2 54.5,202.2 54.7,201.1 55.0,199.9 55.3,198.7 55.7,197.4 56.0,196.0 56.4,194.6 56.8,193.1 57.3,191.5 57.8,189.8 58.3,188.1 58.9,186.3 59.5,184.4 60.2,182.4 60.9,180.3 61.6,178.2 62.5,175.9 63.3,173.6 64.3,171.2 65.3,168.7 66.4,166.1 67.6,163.4 68.9,160.7 70.3,157.9 71.8,155.1 73.3,152.2 75.0,149.2 76.8,146.3 78.7,143.3 80.8,140.3 82.9,137.3 85.2,134.4 87.6,131.5 90.2,128.7 92.9,126.0 95.6,123.4 98.6,120.9 101.6,118.6 104.7,116.5 108.0,114.6 111.3,112.9 114.7,111.4 118.2,110.2 121.7,109.3 125.3,108.7 128.9,108.3 132.5,108.2 136.1,108.4 139.7,108.9 143.2,109.7 146.7,110.7 150.1,111.9 153.4,113.4 156.6,115.1 159.8,117.0 162.8,119.1 165.7,121.3 168.5,123.6 171.2,126.1 173.8,128.6 176.2,131.1 178.5,133.8 180.7,136.4 182.8,139.0 184.8,141.6 186.7,144.2 188.4,146.8 190.1,149.3 191.7,151.7 193.2,154.1 194.6,156.4 195.9,158.6 197.1,160.7 198.3,162.7 199.4,164.6 200.5,166.5 201.5,168.2 202.4,169.9 203.4,171.4 204.2,172.8 205.1,174.2 205.9,175.4 206.6,176.5 207.4,177.6 208.1,178.5 208.8,179.4 209.5,180.2 210.1,180.8 210.8,181.4 211.4,181.9 212.0,182.3 212.7,182.6 213.3,182.8 213.9,183.0 214.5,183.0 215.1,183.0 215.8,182.9 216.4,182.7 217.0,182.4 217.6,182.1 218.3,181.6 219.0,181.1 219.6,180.5 220.3,179.8 221.0,179.1 221.7,178.2 222.4,177.3 223.2,176.3 224.0,175.2 224.8,174.0 225.6,172.7 226.4,171.4 227.3,169.9 228.2,168.4 229.1,166.8 230.1,165.0 231.1,163.2 232.1,161.3" fill="none" stroke="#ff00ff" stroke-width="1.7" stroke-linejoin="round"/>
<polyline points="51.8,221.5 51.8,221.5 51.8,221.5 51.8,221.5 51.8,221.5 51.8,221.5 51.8,221.5 51.8,221.5 51.8,221.5 51.8,221.5 51.8,221.5 51.8,221.5 51.8,221.5 51.8,221.5 51.8,221.5 51.8,221.5 51.8,221.5 51.8,221.5 51.8,221.5 51.8,221.5 51.8,221.5 51.8,221.5 51.8,221.5 51.8,221.5 51.8,221.5 51.8,221.5 51.8,221.5 51.8,221.5 51.8,221.5 51.8,221.5 51.8,221.5 51.8,221.5 51.8,221.5 51.8,221.5 51.8,221.5 51.8,221.5 51.8,221.5 51.8,221.5 51.8,221.5 51.8,221.5 51.8,221.5 51.8,221.5 51.8,221.5 51.8,221.5 51.8,221.5 51.8,221.5 51.8,221.5 51.8,221.5 51.8,221.5 51.8,221.5 51.8,221.4 51.8,221.4 51.8,221.4 51.8,221.4 51.8,221.4 51.8,221.4 51.8,221.4 51.8,221.4 51.8,221.4 51.8,221.4 51.8,221.4 51.8,221.4 51.8,221.4 51.8,221.4 51.8,221.4 51.8,221.4 51.8,221.4 51.8,221.4 51.8,221.4 51.8,221.4 51.8,221.4 51.8,221.3 51.8,221.3 51.8,221.3 51.8,221.3 51.8,221.3 51.8,221.3 51.8,221.3 51.8,221.3 51.8,221.3 51.8,221.3 51.8,221.2 51.8,221.2 51.8,221.2 51.8,221.2 51.8,221.2 51.8,221.2 51.8,221.1 51.8,221.1 51.8,221.1 51.8,221.1 51.8,221.1 51.8,221.0 51.8,221.0 51.8,221.0 51.9,221.0 51.9,220.9 51.9,220.9 51.9,220.9 51.9,220.8 51.9,220.8 51.9,220.8 51.9,220.7 51.9,220.7 51.9,220.6 51.9,220.6 51.9,220.5 51.9,220.5 51.9,220.4 51.9,220.4 51.9,220.3 52.0,220.2 52.0,220.2 52.0,220.1 52.0,220.0 52.0,219.9 52.0,219.9 52.0,219.8 52.0,219.7 52.1,219.6 52.1,219.5 52.1,219.4 52.1,219.3 52.1,219.1 52.1,219.0 52.2,218.9 52.2,218.7 52.2,218.6 52.2,218.4 52.3,218.3 52.3,218.1 52.3,217.9 52.3,217.7 52.4,217.5 52.4,217.3 52.4,217.1 52.5,216.8 52.5,216.6 52.6,216.3 52.6,216.0 52.6,215.8 52.7,215.4 52.7,215.1 52.8,214.8 52.9,214.4 52.9,214.0 53.0,213.7 53.0,213.2 53.1,212.8 53.2,212.3 53.3,211.8 53.4,211.3 53.5,210.8 53.6,210.2 53.7,209.6 53.8,209.0 53.9,208.3 54.0,207.6 54.1,206.9 54.3,206.1 54.4,205.3 54.6,204.5 54.8,203.6 54.9,202.6 55.1,201.6 55.3,200.6 55.5,199.5 55.8,198.3 56.0,197.1 56.3,195.9 56.6,194.5 56.9,193.1 57.2,191.7 57.5,190.2 57.9,188.5 58.3,186.9 58.7,185.1 59.1,183.3 59.6,181.3 60.1,179.3 60.7,177.2 61.2,175.0 61.9,172.7 62.5,170.3 63.3,167.8 64.0,165.2 64.9,162.5 65.7,159.6 66.7,156.7 67.7,153.7 68.8,150.5 69.9,147.2 71.2,143.9 72.5,140.4 74.0,136.8 75.5,133.1 77.1,129.3 78.9,125.4 80.7,121.4 82.7,117.4 84.8,113.3 87.1,109.1 89.5,104.8 92.0,100.6 94.7,96.3 97.5,92.0 100.5,87.8 103.7,83.6 107.0,79.4 110.5,75.4 114.2,71.4 118.0,67.6 122.0,64.0 126.2,60.6 130.5,57.3 134.9,54.4 139.4,51.6 144.1,49.2 148.9,47.1 153.8,45.3 158.7,43.9 163.7,42.9 168.8,42.2 173.8,41.9 178.9,41.9 183.9,42.4 188.9,43.2 193.9,44.4 198.8,45.9 203.6,47.8 208.3,49.9 212.9,52.4 217.3,55.1 221.6,58.1 225.8,61.2 229.8,64.6 233.7,68.1 237.4,71.8 241.0,75.6 244.3,79.4 247.6,83.3 250.6,87.3 253.6,91.2 256.3,95.2 258.9,99.1 261.4,103.0 263.7,106.8 265.9,110.6 268.0,114.3 270.0,117.9 271.8,121.3 273.6,124.7 275.2,128.0 276.7,131.2 278.2,134.2 279.6,137.1 280.9,139.9 282.1,142.5 283.2,145.0 284.3,147.4 285.4,149.7 286.4,151.8 287.3,153.8 288.2,155.7 289.1,157.4 289.9,159.0 290.7,160.5 291.4,161.8 292.2,163.1 292.9,164.2 293.5,165.2 294.2,166.0 294.9,166.8 295.5,167.4 296.1,167.9 296.7,168.3 297.3,168.6 297.9,168.8 298.5,168.8 299.1,168.7 299.7,168.6 300.3,168.3 300.9,167.9 301.5,167.3 302.1,166.7 302.7,166.0 303.4,165.1 304.0,164.1 304.7,163.0 305.3,161.7 306.0,160.4 306.7,158.9 307.4,157.3 308.2,155.5 308.9,153.6 309.7,151.6 310.5,149.4 311.4,147.1 312.2,144.6 313.1,142.0" fill="none" stroke="#000080" stroke-width="1.7" stroke-linejoin="round"/>
<polyline points="52.4,221.5 52.4,221.5 52.4,221.5 52.4,221.5 52.4,221.5 52.4,221.5 52.4,221.5 52.4,221.5 52.4,221.5 52.4,221.5 52.4,221.5 52.4,221.5 52.4,221.5 52.4,221.5 52.4,221.5 52.4,221.5 52.4,221.5 52.4,221.5 52.4,221.5 52.4,221.5 52.4,221.5 52.4,221.5 52.4,221.5 52.4,221.5 52.4,221.5 52.4,221.5 52.4,221.5 52.4,221.5 52.4,221.5 52.4,221.5 52.4,221.5 52.4,221.5 52.4,221.5 52.4,221.5 52.4,221.5 52.4,221.5 52.4,221.5 52.4,221.5 52.4,221.5 52.4,221.5 52.4,221.5 52.4,221.5 52.4,221.5 52.4,221.5 52.4,221.5 52.4,221.5 52.4,221.5 52.4,221.5 52.4,221.5 52.4,221.5 52.4,221.5 52.4,221.5 52.4,221.5 52.4,221.5 52.4,221.5 52.4,221.5 52.4,221.5 52.4,221.5 52.4,221.5 52.4,221.5 52.4,221.5 52.4,221.5 52.4,221.5 52.4,221.5 52.4,221.5 52.4,221.5 52.4,221.5 52.4,221.5 52.4,221.5 52.4,221.5 52.4,221.5 52.4,221.5 52.4,221.5 52.4,221.5 52.4,221.5 52.4,221.5 52.4,221.5 52.4,221.5 52.4,221.5 52.4,221.5 52.4,221.5 52.4,221.5 52.4,221.5 52.4,221.5 52.4,221.5 52.4,221.5 52.4,221.5 52.4,221.5 52.4,221.5 52.4,221.5 52.4,221.5 52.4,221.5 52.4,221.5 52.4,221.5 52.4,221.5 52.4,221.5 52.4,221.4 52.4,221.4 52.4,221.4 52.4,221.4 52.4,221.4 52.4,221.4 52.4,221.4 52.4,221.4 52.4,221.4 52.4,221.4 52.4,221.4 52.4,221.4 52.4,221.4 52.4,221.4 52.4,221.4 52.4,221.4 52.4,221.4 52.4,221.4 52.4,221.3 52.4,221.3 52.4,221.3 52.4,221.3 52.4,221.3 52.4,221.3 52.4,221.3 52.4,221.3 52.4,221.2 52.4,221.2 52.4,221.2 52.4,221.2 52.4,221.2 52.4,221.2 52.4,221.1 52.4,221.1 52.4,221.1 52.4,221.1 52.4,221.0 52.4,221.0 52.4,221.0 52.4,220.9 52.4,220.9 52.5,220.9 52.5,220.8 52.5,220.8 52.5,220.7 52.5,220.7 52.5,220.6 52.5,220.6 52.5,220.5 52.5,220.4 52.5,220.4 52.5,220.3 52.5,220.2 52.5,220.2 52.6,220.1 52.6,220.0 52.6,219.9 52.6,219.8 52.6,219.7 52.6,219.5 52.6,219.4 52.6,219.3 52.7,219.2 52.7,219.0 52.7,218.8 52.7,218.7 52.7,218.5 52.8,218.3 52.8,218.1 52.8,217.9 52.9,217.7 52.9,217.4 52.9,217.2 53.0,216.9 53.0,216.6 53.0,216.3 53.1,216.0 53.1,215.6 53.2,215.2 53.2,214.8 53.3,214.4 53.3,214.0 53.4,213.5 53.5,213.0 53.6,212.5 53.6,211.9 53.7,211.3 53.8,210.7 53.9,210.0 54.0,209.2 54.2,208.5 54.3,207.7 54.4,206.8 54.6,205.9 54.7,204.9 54.9,203.9 55.1,202.8 55.3,201.6 55.5,200.4 55.7,199.1 56.0,197.7 56.3,196.3 56.6,194.8 56.9,193.1 57.3,191.4 57.6,189.6 58.1,187.7 58.5,185.6 59.0,183.5 59.5,181.3 60.1,178.9 60.7,176.4 61.4,173.8 62.2,171.0 63.0,168.1 63.9,165.1 64.9,162.0 65.9,158.7 67.1,155.2 68.3,151.7 69.7,148.0 71.2,144.1 72.8,140.2 74.5,136.1 76.4,131.9 78.5,127.6 80.7,123.3 83.0,118.9 85.6,114.4 88.3,109.9 91.3,105.5 94.4,101.0 97.8,96.7 101.3,92.4 105.1,88.3 109.0,84.4 113.2,80.8 117.5,77.3 122.0,74.2 126.7,71.5 131.5,69.1 136.4,67.1 141.5,65.5 146.6,64.4 151.7,63.8 156.9,63.7 162.0,64.0 167.1,64.8 172.2,66.1 177.1,67.8 182.0,69.9 186.7,72.3 191.2,75.1 195.6,78.3 199.8,81.7 203.8,85.3 207.6,89.0 211.2,93.0 214.6,97.0 217.8,101.1 220.8,105.3 223.6,109.4 226.3,113.5 228.7,117.6 231.0,121.5 233.1,125.4 235.1,129.2 237.0,132.9 238.7,136.4 240.2,139.8 241.7,143.0 243.1,146.1 244.3,149.0 245.5,151.7 246.6,154.3 247.6,156.7 248.6,158.9 249.5,161.0 250.3,162.9 251.1,164.6 251.9,166.2 252.6,167.6 253.3,168.8 253.9,169.9 254.5,170.8 255.1,171.6 255.7,172.2 256.3,172.7 256.8,173.0 257.4,173.1 257.9,173.1 258.4,172.9 259.0,172.6 259.5,172.1 260.0,171.5 260.6,170.7 261.1,169.7 261.7,168.6 262.2,167.3 262.8,165.8 263.4,164.1 264.0,162.3 264.6,160.3 265.3,158.1" fill="none" stroke="#808000" stroke-width="1.7" stroke-linejoin="round"/>
<text x="149.6" y="216.5" font-size="12" font-family="Liberation Sans, sans-serif">0</text>
<line x1="160.5" y1="212.6" x2="209" y2="212.6" stroke="#000" stroke-width="1"/>
<path d="M214 212.6 L207.5 210.4 L207.5 214.8Z" fill="#000"/>
<text x="217.3" y="216.5" font-size="12.2" font-family="Liberation Sans, sans-serif">10</text><text x="230.6" y="212" font-size="10.6" font-family="Liberation Sans, sans-serif">-3</text><text x="240.8" y="216.5" font-size="12.6" font-family="Liberation Sans, sans-serif">mol/L</text>
<rect x="376.6" y="1.9" width="296.19999999999993" height="220.2" fill="none" stroke="#333" stroke-width="1.1"/>
<line x1="372.40000000000003" y1="221.90" x2="376.6" y2="221.90" stroke="#333" stroke-width="1.1"/>
<text x="369.0" y="225.70" text-anchor="end" font-size="11.6" font-family="Liberation Sans, sans-serif">0</text>
<line x1="374.3" y1="210.33" x2="376.6" y2="210.33" stroke="#333" stroke-width="1.1"/>
<line x1="372.40000000000003" y1="198.75" x2="376.6" y2="198.75" stroke="#333" stroke-width="1.1"/>
<text x="369.0" y="202.55" text-anchor="end" font-size="11.6" font-family="Liberation Sans, sans-serif">1</text>
<line x1="374.3" y1="187.18" x2="376.6" y2="187.18" stroke="#333" stroke-width="1.1"/>
<line x1="372.40000000000003" y1="175.60" x2="376.6" y2="175.60" stroke="#333" stroke-width="1.1"/>
<text x="369.0" y="179.40" text-anchor="end" font-size="11.6" font-family="Liberation Sans, sans-serif">2</text>
<line x1="374.3" y1="164.03" x2="376.6" y2="164.03" stroke="#333" stroke-width="1.1"/>
<line x1="372.40000000000003" y1="152.45" x2="376.6" y2="152.45" stroke="#333" stroke-width="1.1"/>
<text x="369.0" y="156.25" text-anchor="end" font-size="11.6" font-family="Liberation Sans, sans-serif">3</text>
<line x1="374.3" y1="140.88" x2="376.6" y2="140.88" stroke="#333" stroke-width="1.1"/>
<line x1="372.40000000000003" y1="129.30" x2="376.6" y2="129.30" stroke="#333" stroke-width="1.1"/>
<text x="369.0" y="133.10" text-anchor="end" font-size="11.6" font-family="Liberation Sans, sans-serif">4</text>
<line x1="374.3" y1="117.73" x2="376.6" y2="117.73" stroke="#333" stroke-width="1.1"/>
<line x1="372.40000000000003" y1="106.15" x2="376.6" y2="106.15" stroke="#333" stroke-width="1.1"/>
<text x="369.0" y="109.95" text-anchor="end" font-size="11.6" font-family="Liberation Sans, sans-serif">5</text>
<line x1="374.3" y1="94.58" x2="376.6" y2="94.58" stroke="#333" stroke-width="1.1"/>
<line x1="372.40000000000003" y1="83.00" x2="376.6" y2="83.00" stroke="#333" stroke-width="1.1"/>
<text x="369.0" y="86.80" text-anchor="end" font-size="11.6" font-family="Liberation Sans, sans-serif">6</text>
<line x1="374.3" y1="71.43" x2="376.6" y2="71.43" stroke="#333" stroke-width="1.1"/>
<line x1="372.40000000000003" y1="59.85" x2="376.6" y2="59.85" stroke="#333" stroke-width="1.1"/>
<text x="369.0" y="63.65" text-anchor="end" font-size="11.6" font-family="Liberation Sans, sans-serif">7</text>
<line x1="374.3" y1="48.28" x2="376.6" y2="48.28" stroke="#333" stroke-width="1.1"/>
<line x1="372.40000000000003" y1="36.70" x2="376.6" y2="36.70" stroke="#333" stroke-width="1.1"/>
<text x="369.0" y="40.50" text-anchor="end" font-size="11.6" font-family="Liberation Sans, sans-serif">8</text>
<line x1="374.3" y1="25.13" x2="376.6" y2="25.13" stroke="#333" stroke-width="1.1"/>
<line x1="372.40000000000003" y1="13.55" x2="376.6" y2="13.55" stroke="#333" stroke-width="1.1"/>
<text x="369.0" y="17.35" text-anchor="end" font-size="11.6" font-family="Liberation Sans, sans-serif">9</text>
<line x1="374.3" y1="1.98" x2="376.6" y2="1.98" stroke="#333" stroke-width="1.1"/>
<line x1="376.85" y1="222.1" x2="376.85" y2="224.4" stroke="#333" stroke-width="1.1"/>
<line x1="401.50" y1="222.1" x2="401.50" y2="226.29999999999998" stroke="#333" stroke-width="1.1"/>
<text x="401.50" y="238.3" text-anchor="middle" font-size="11.6" font-family="Liberation Sans, sans-serif">0.0000</text>
<line x1="426.15" y1="222.1" x2="426.15" y2="224.4" stroke="#333" stroke-width="1.1"/>
<line x1="450.80" y1="222.1" x2="450.80" y2="226.29999999999998" stroke="#333" stroke-width="1.1"/>
<text x="450.80" y="238.3" text-anchor="middle" font-size="11.6" font-family="Liberation Sans, sans-serif">0.0002</text>
<line x1="475.45" y1="222.1" x2="475.45" y2="224.4" stroke="#333" stroke-width="1.1"/>
<line x1="500.10" y1="222.1" x2="500.10" y2="226.29999999999998" stroke="#333" stroke-width="1.1"/>
<text x="500.10" y="238.3" text-anchor="middle" font-size="11.6" font-family="Liberation Sans, sans-serif">0.0004</text>
<line x1="524.75" y1="222.1" x2="524.75" y2="224.4" stroke="#333" stroke-width="1.1"/>
<line x1="549.40" y1="222.1" x2="549.40" y2="226.29999999999998" stroke="#333" stroke-width="1.1"/>
<text x="549.40" y="238.3" text-anchor="middle" font-size="11.6" font-family="Liberation Sans, sans-serif">0.0006</text>
<line x1="574.05" y1="222.1" x2="574.05" y2="224.4" stroke="#333" stroke-width="1.1"/>
<line x1="598.70" y1="222.1" x2="598.70" y2="226.29999999999998" stroke="#333" stroke-width="1.1"/>
<text x="598.70" y="238.3" text-anchor="middle" font-size="11.6" font-family="Liberation Sans, sans-serif">0.0008</text>
<line x1="623.35" y1="222.1" x2="623.35" y2="224.4" stroke="#333" stroke-width="1.1"/>
<line x1="648.00" y1="222.1" x2="648.00" y2="226.29999999999998" stroke="#333" stroke-width="1.1"/>
<text x="648.00" y="238.3" text-anchor="middle" font-size="11.6" font-family="Liberation Sans, sans-serif">0.0010</text>
<line x1="672.65" y1="222.1" x2="672.65" y2="224.4" stroke="#333" stroke-width="1.1"/>
<text x="475" y="253.4" font-size="16" font-family="Liberation Sans, sans-serif"><tspan font-style="italic">C</tspan><tspan dy="3.5" font-size="15">ATP</tspan><tspan dy="-3.5">(mol/L)</tspan></text>
<text transform="translate(355.4,133.2) rotate(-90)" font-size="15.5" font-family="Liberation Sans, sans-serif"><tspan font-style="italic">ΔR</tspan><tspan dy="3" font-size="12">ct</tspan><tspan dy="-3">/kΩ</tspan></text>
<text x="399.9" y="30.9" font-size="19.8" font-family="Liberation Serif, serif">B</text>
<polyline points="401.30,197.00 401.30,186.20 401.30,160.10 401.30,143.60 403.60,90.50 426.00,50.40 648.30,20.20" fill="none" stroke="#000" stroke-width="1.4"/>
<rect x="398.90" y="194.60" width="4.8" height="4.8" fill="#000"/>
<rect x="398.90" y="183.80" width="4.8" height="4.8" fill="#000"/>
<rect x="398.90" y="157.70" width="4.8" height="4.8" fill="#000"/>
<rect x="398.90" y="141.20" width="4.8" height="4.8" fill="#000"/>
<rect x="401.20" y="88.10" width="4.8" height="4.8" fill="#000"/>
<rect x="423.60" y="48.00" width="4.8" height="4.8" fill="#000"/>
<rect x="645.90" y="17.80" width="4.8" height="4.8" fill="#000"/>
<line x1="399.30" y1="136.66" x2="403.30" y2="136.66" stroke="#000" stroke-width="0.6"/>
<line x1="399.30" y1="150.54" x2="403.30" y2="150.54" stroke="#000" stroke-width="0.6"/>
<line x1="399.30" y1="154.31" x2="403.30" y2="154.31" stroke="#000" stroke-width="0.6"/>
<line x1="399.30" y1="165.89" x2="403.30" y2="165.89" stroke="#000" stroke-width="0.6"/>
<line x1="401.60" y1="84.02" x2="405.60" y2="84.02" stroke="#000" stroke-width="0.6"/>
<line x1="401.60" y1="96.98" x2="405.60" y2="96.98" stroke="#000" stroke-width="0.6"/>
<rect x="457.6" y="55.2" width="185.19999999999993" height="137.8" fill="none" stroke="#555" stroke-width="0.9"/>
<line x1="455.0" y1="185.10" x2="457.6" y2="185.10" stroke="#555" stroke-width="0.8"/>
<text x="453.4" y="187.85" text-anchor="end" font-size="7.6" font-family="Liberation Sans, sans-serif">0</text>
<line x1="456.1" y1="177.40" x2="457.6" y2="177.40" stroke="#555" stroke-width="0.8"/>
<line x1="455.0" y1="169.70" x2="457.6" y2="169.70" stroke="#555" stroke-width="0.8"/>
<text x="453.4" y="172.45" text-anchor="end" font-size="7.6" font-family="Liberation Sans, sans-serif">1</text>
<line x1="456.1" y1="162.00" x2="457.6" y2="162.00" stroke="#555" stroke-width="0.8"/>
<line x1="455.0" y1="154.30" x2="457.6" y2="154.30" stroke="#555" stroke-width="0.8"/>
<text x="453.4" y="157.05" text-anchor="end" font-size="7.6" font-family="Liberation Sans, sans-serif">2</text>
<line x1="456.1" y1="146.60" x2="457.6" y2="146.60" stroke="#555" stroke-width="0.8"/>
<line x1="455.0" y1="138.90" x2="457.6" y2="138.90" stroke="#555" stroke-width="0.8"/>
<text x="453.4" y="141.65" text-anchor="end" font-size="7.6" font-family="Liberation Sans, sans-serif">3</text>
<line x1="456.1" y1="131.20" x2="457.6" y2="131.20" stroke="#555" stroke-width="0.8"/>
<line x1="455.0" y1="123.50" x2="457.6" y2="123.50" stroke="#555" stroke-width="0.8"/>
<text x="453.4" y="126.25" text-anchor="end" font-size="7.6" font-family="Liberation Sans, sans-serif">4</text>
<line x1="456.1" y1="115.80" x2="457.6" y2="115.80" stroke="#555" stroke-width="0.8"/>
<line x1="455.0" y1="108.10" x2="457.6" y2="108.10" stroke="#555" stroke-width="0.8"/>
<text x="453.4" y="110.85" text-anchor="end" font-size="7.6" font-family="Liberation Sans, sans-serif">5</text>
<line x1="456.1" y1="100.40" x2="457.6" y2="100.40" stroke="#555" stroke-width="0.8"/>
<line x1="455.0" y1="92.70" x2="457.6" y2="92.70" stroke="#555" stroke-width="0.8"/>
<text x="453.4" y="95.45" text-anchor="end" font-size="7.6" font-family="Liberation Sans, sans-serif">6</text>
<line x1="456.1" y1="85.00" x2="457.6" y2="85.00" stroke="#555" stroke-width="0.8"/>
<line x1="455.0" y1="77.30" x2="457.6" y2="77.30" stroke="#555" stroke-width="0.8"/>
<text x="453.4" y="80.05" text-anchor="end" font-size="7.6" font-family="Liberation Sans, sans-serif">7</text>
<line x1="456.1" y1="69.60" x2="457.6" y2="69.60" stroke="#555" stroke-width="0.8"/>
<line x1="455.0" y1="61.90" x2="457.6" y2="61.90" stroke="#555" stroke-width="0.8"/>
<text x="453.4" y="64.65" text-anchor="end" font-size="7.6" font-family="Liberation Sans, sans-serif">8</text>
<line x1="473.00" y1="193.0" x2="473.00" y2="195.6" stroke="#555" stroke-width="0.8"/>
<text x="473.30" y="203.4" text-anchor="middle" font-size="7.4" font-family="Liberation Sans, sans-serif">-8</text>
<line x1="488.43" y1="193.0" x2="488.43" y2="194.5" stroke="#555" stroke-width="0.8"/>
<line x1="503.86" y1="193.0" x2="503.86" y2="195.6" stroke="#555" stroke-width="0.8"/>
<text x="504.16" y="203.4" text-anchor="middle" font-size="7.4" font-family="Liberation Sans, sans-serif">-7</text>
<line x1="519.29" y1="193.0" x2="519.29" y2="194.5" stroke="#555" stroke-width="0.8"/>
<line x1="534.72" y1="193.0" x2="534.72" y2="195.6" stroke="#555" stroke-width="0.8"/>
<text x="535.02" y="203.4" text-anchor="middle" font-size="7.4" font-family="Liberation Sans, sans-serif">-6</text>
<line x1="550.15" y1="193.0" x2="550.15" y2="194.5" stroke="#555" stroke-width="0.8"/>
<line x1="565.58" y1="193.0" x2="565.58" y2="195.6" stroke="#555" stroke-width="0.8"/>
<text x="565.88" y="203.4" text-anchor="middle" font-size="7.4" font-family="Liberation Sans, sans-serif">-5</text>
<line x1="581.01" y1="193.0" x2="581.01" y2="194.5" stroke="#555" stroke-width="0.8"/>
<line x1="596.44" y1="193.0" x2="596.44" y2="195.6" stroke="#555" stroke-width="0.8"/>
<text x="596.74" y="203.4" text-anchor="middle" font-size="7.4" font-family="Liberation Sans, sans-serif">-4</text>
<line x1="611.87" y1="193.0" x2="611.87" y2="194.5" stroke="#555" stroke-width="0.8"/>
<line x1="627.30" y1="193.0" x2="627.30" y2="195.6" stroke="#555" stroke-width="0.8"/>
<text x="627.60" y="203.4" text-anchor="middle" font-size="7.4" font-family="Liberation Sans, sans-serif">-3</text>
<line x1="642.73" y1="193.0" x2="642.73" y2="194.5" stroke="#555" stroke-width="0.8"/>
<text x="522" y="211.3" font-size="10.2" font-family="Liberation Sans, sans-serif">log<tspan dy="2.4" font-size="9.6">ATP</tspan><tspan dy="-2.4">(mol/L)</tspan></text>
<text transform="translate(443.4,137.5) rotate(-90)" font-size="10.6" font-family="Liberation Sans, sans-serif"><tspan font-style="italic">ΔR</tspan><tspan dy="2" font-size="8.8">ct</tspan><tspan dy="-2">/kΩ</tspan></text>
<line x1="472.80" y1="176.90" x2="472.80" y2="178.50" stroke="#888" stroke-width="0.6"/>
<line x1="471.30" y1="176.90" x2="474.30" y2="176.90" stroke="#999" stroke-width="0.6"/>
<line x1="471.30" y1="178.50" x2="474.30" y2="178.50" stroke="#999" stroke-width="0.6"/>
<line x1="503.80" y1="159.30" x2="503.80" y2="162.30" stroke="#888" stroke-width="0.6"/>
<line x1="502.30" y1="159.30" x2="505.30" y2="159.30" stroke="#999" stroke-width="0.6"/>
<line x1="502.30" y1="162.30" x2="505.30" y2="162.30" stroke="#999" stroke-width="0.6"/>
<line x1="534.40" y1="134.90" x2="534.40" y2="145.30" stroke="#888" stroke-width="0.6"/>
<line x1="532.90" y1="134.90" x2="535.90" y2="134.90" stroke="#999" stroke-width="0.6"/>
<line x1="532.90" y1="145.30" x2="535.90" y2="145.30" stroke="#999" stroke-width="0.6"/>
<line x1="565.10" y1="110.10" x2="565.10" y2="119.30" stroke="#888" stroke-width="0.6"/>
<line x1="563.60" y1="110.10" x2="566.60" y2="110.10" stroke="#999" stroke-width="0.6"/>
<line x1="563.60" y1="119.30" x2="566.60" y2="119.30" stroke="#999" stroke-width="0.6"/>
<line x1="596.50" y1="87.10" x2="596.50" y2="90.10" stroke="#888" stroke-width="0.6"/>
<line x1="595.00" y1="87.10" x2="598.00" y2="87.10" stroke="#999" stroke-width="0.6"/>
<line x1="595.00" y1="90.10" x2="598.00" y2="90.10" stroke="#999" stroke-width="0.6"/>
<line x1="627.40" y1="67.70" x2="627.40" y2="69.30" stroke="#888" stroke-width="0.6"/>
<line x1="625.90" y1="67.70" x2="628.90" y2="67.70" stroke="#999" stroke-width="0.6"/>
<line x1="625.90" y1="69.30" x2="628.90" y2="69.30" stroke="#999" stroke-width="0.6"/>
<polyline points="472.80,177.70 503.80,160.80 534.40,140.10 565.10,114.70 596.50,88.60 627.40,68.50" fill="none" stroke="#333" stroke-width="0.9"/>
<line x1="472.80" y1="177.70" x2="627.40" y2="68.50" stroke="#e61e1e" stroke-width="1.1"/>
<rect x="470.60" y="175.50" width="4.4" height="4.4" fill="#000"/>
<rect x="501.60" y="158.60" width="4.4" height="4.4" fill="#000"/>
<rect x="532.20" y="137.90" width="4.4" height="4.4" fill="#000"/>
<rect x="562.90" y="112.50" width="4.4" height="4.4" fill="#000"/>
<rect x="594.30" y="86.40" width="4.4" height="4.4" fill="#000"/>
<rect x="625.20" y="66.30" width="4.4" height="4.4" fill="#000"/>
</svg>
</body></html>
